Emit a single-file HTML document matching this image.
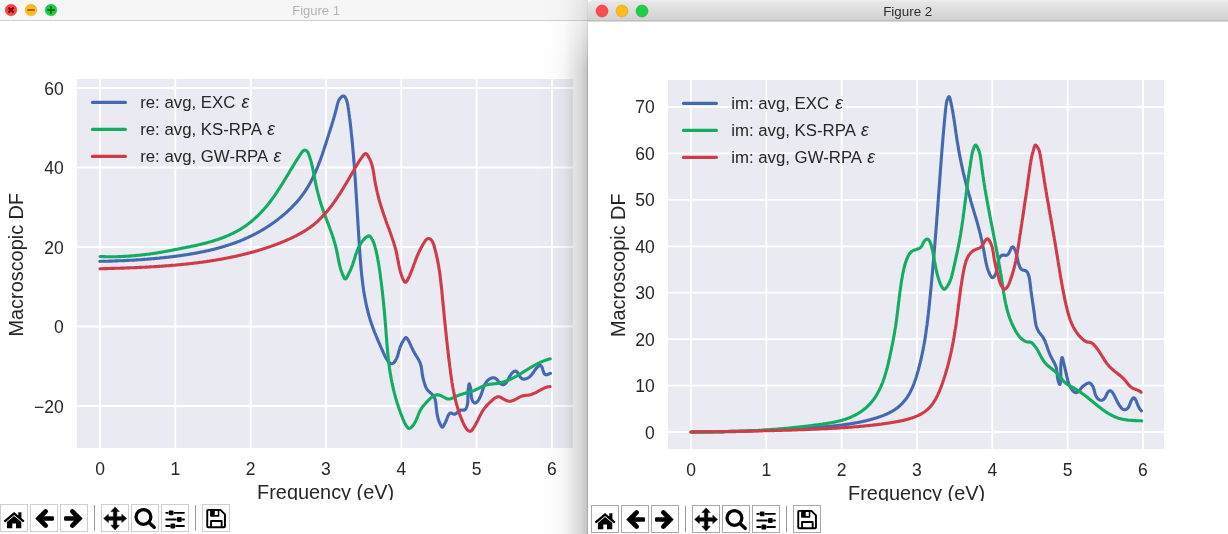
<!DOCTYPE html>
<html><head><meta charset="utf-8"><title>Figures</title>
<style>
html,body{margin:0;padding:0;background:#fff;}
body{width:1228px;height:534px;overflow:hidden;position:relative;font-family:"Liberation Sans",sans-serif;}
svg{position:absolute;left:0;top:0;will-change:transform;}
text{font-family:"Liberation Sans",sans-serif;fill:#262626;}
.tk{font-size:17.5px;}
.lg{font-size:16.8px;}
.al{font-size:19.9px;}
.eps{font-style:italic;font-size:17.6px;}
.t1{font-size:13px;fill:#b4b4b4;}
.t2{font-size:13.4px;fill:#2e2e2e;}
</style></head><body>
<svg width="1228" height="534" viewBox="0 0 1228 534">
<defs>
<linearGradient id="tb2g" x1="0" y1="0" x2="0" y2="1"><stop offset="0" stop-color="#f0eff0"/><stop offset="0.08" stop-color="#e8e7e8"/><stop offset="1" stop-color="#d2d1d2"/></linearGradient>
<linearGradient id="shd" x1="0" y1="0" x2="1" y2="0"><stop offset="0" stop-color="#000" stop-opacity="0"/><stop offset="0.3" stop-color="#000" stop-opacity="0.012"/><stop offset="0.5" stop-color="#000" stop-opacity="0.035"/><stop offset="0.69" stop-color="#000" stop-opacity="0.10"/><stop offset="0.85" stop-color="#000" stop-opacity="0.155"/><stop offset="0.97" stop-color="#000" stop-opacity="0.225"/><stop offset="1" stop-color="#000" stop-opacity="0.25"/></linearGradient>
<linearGradient id="shv" x1="0" y1="0" x2="0" y2="70" gradientUnits="userSpaceOnUse"><stop offset="0" stop-color="#fff" stop-opacity="0.35"/><stop offset="0.3" stop-color="#fff" stop-opacity="0.45"/><stop offset="1" stop-color="#fff" stop-opacity="1"/></linearGradient>
<mask id="shm" maskUnits="userSpaceOnUse" x="540" y="0" width="48" height="534"><rect x="540" y="0" width="48" height="534" fill="url(#shv)"/></mask>
<clipPath id="lab1"><rect x="0" y="0" width="588" height="500"/></clipPath>
<clipPath id="lab2"><rect x="588" y="0" width="640" height="501"/></clipPath>
<symbol id="i-home" viewBox="0 0 28 28" width="28" height="28"><path d="M14.1 8.0 L3.9 16.5 Q3.7 17 4.2 17.4 L4.9 18.1 Q5.3 18.4 5.7 18.0 L14.1 10.9 L22.5 18.0 Q22.9 18.4 23.3 18.1 L24.0 17.4 Q24.5 17 24.3 16.5 L21.4 14.1 V8.2 H18.3 V11.5 Z" fill="#000"/><path d="M14.1 12.1 L6.9 17.9 V23.8 Q6.9 24.3 7.4 24.3 H12.3 V19.4 H16.0 V24.3 H20.8 Q21.3 24.3 21.3 23.8 V17.9 Z" fill="#000"/></symbol>
<symbol id="i-left" viewBox="0 0 28 28" width="28" height="28"><path d="M15.65 7.45 L8.6 14.5 L15.65 21.55" fill="none" stroke="#000" stroke-width="4.7" stroke-linecap="round" stroke-linejoin="miter"/><rect x="8.6" y="12.2" width="15.4" height="4.6" rx="1.3" fill="#000"/></symbol>
<symbol id="i-right" viewBox="0 0 28 28" width="28" height="28"><path d="M12.35 7.45 L19.4 14.5 L12.35 21.55" fill="none" stroke="#000" stroke-width="4.7" stroke-linecap="round" stroke-linejoin="miter"/><rect x="4" y="12.2" width="15.4" height="4.6" rx="1.3" fill="#000"/></symbol>
<symbol id="i-move" viewBox="0 0 28 28" width="28" height="28"><path d="M14.1 2.9 L18.3 7.6 H15.85 V12.65 H20.8 V10.2 L25.6 14.4 L20.8 18.6 V16.15 H15.85 V21.2 H18.3 L14.1 25.9 L9.9 21.2 H12.35 V16.15 H7.4 V18.6 L2.6 14.4 L7.4 10.2 V12.65 H12.35 V7.6 H9.9 Z" fill="#000" stroke="#000" stroke-width="0.5" stroke-linejoin="round"/></symbol>
<symbol id="i-zoom" viewBox="0 0 28 28" width="28" height="28"><circle cx="12.45" cy="12.95" r="7.4" fill="none" stroke="#000" stroke-width="3.3"/><path d="M18.2 18.7 L23.2 23.3" stroke="#000" stroke-width="3.4" stroke-linecap="round"/></symbol>
<symbol id="i-sliders" viewBox="0 0 28 28" width="28" height="28"><path d="M5.2 8.85 H23 M5.2 15.5 H23 M5.2 22 H23" stroke="#000" stroke-width="1.8" stroke-linecap="round"/><rect x="7.8" y="6.45" width="4.7" height="4.8" rx="1" fill="#000" stroke="#fff" stroke-width="0.7" paint-order="stroke"/><rect x="16" y="13.1" width="4.7" height="4.8" rx="1" fill="#000" stroke="#fff" stroke-width="0.7" paint-order="stroke"/><rect x="9.45" y="19.6" width="4.7" height="4.8" rx="1" fill="#000" stroke="#fff" stroke-width="0.7" paint-order="stroke"/></symbol>
<symbol id="i-save" viewBox="0 0 28 28" width="28" height="28"><path d="M6.2 5.85 H18.4 L22.95 10.4 V22.3 Q22.95 23.25 22 23.25 H6.2 Q5.25 23.25 5.25 22.3 V6.8 Q5.25 5.85 6.2 5.85 Z" fill="#fff" stroke="#000" stroke-width="1.9" stroke-linejoin="round"/><path d="M8.1 5.85 H17.3 V12 Q17.3 12.8 16.5 12.8 H8.9 Q8.1 12.8 8.1 12 Z" fill="#000"/><rect x="12.75" y="7" width="3.05" height="4" fill="#fff"/><path d="M9.05 23.25 V17.05 H19.65 V23.25" fill="none" stroke="#000" stroke-width="1.9" stroke-linejoin="round"/></symbol>

</defs>
<!-- window 1 -->
<rect x="0" y="0" width="588" height="534" fill="#fff"/>
<rect x="0" y="0" width="588" height="20" fill="#f6f6f6"/>
<rect x="0" y="20" width="588" height="1" fill="#d2d2d2"/>
<circle cx="11" cy="10" r="5.8" fill="#fc4045" stroke="#e8383d" stroke-width="0.5"/><circle cx="31" cy="10" r="5.8" fill="#fdbe10" stroke="#e6a520" stroke-width="0.5"/><circle cx="51" cy="10" r="5.8" fill="#10cf40" stroke="#18b53a" stroke-width="0.5"/>
<path d="M8.4 7.4 L13.6 12.6 M13.6 7.4 L8.4 12.6" stroke="#7e0508" stroke-width="2.1" stroke-linecap="butt" fill="none"/>
<path d="M27.3 10 H34.7" stroke="#985a05" stroke-width="1.8" fill="none"/>
<path d="M47.3 10 H54.7 M51 6.3 V13.7" stroke="#0a6a16" stroke-width="1.8" fill="none"/>
<text x="316.1" y="14.7" text-anchor="middle" class="t1">Figure 1</text>
<g clip-path="url(#lab1)">
<rect x="77" y="79" width="496" height="369" fill="#eaeaf2"/>
<clipPath id="c0"><rect x="77" y="79" width="496" height="369"/></clipPath>
<g clip-path="url(#c0)">
<line x1="100.0" y1="79" x2="100.0" y2="448" stroke="#fff" stroke-width="1.8"/>
<line x1="175.32999999999998" y1="79" x2="175.32999999999998" y2="448" stroke="#fff" stroke-width="1.8"/>
<line x1="250.66" y1="79" x2="250.66" y2="448" stroke="#fff" stroke-width="1.8"/>
<line x1="325.99" y1="79" x2="325.99" y2="448" stroke="#fff" stroke-width="1.8"/>
<line x1="401.32" y1="79" x2="401.32" y2="448" stroke="#fff" stroke-width="1.8"/>
<line x1="476.65" y1="79" x2="476.65" y2="448" stroke="#fff" stroke-width="1.8"/>
<line x1="551.98" y1="79" x2="551.98" y2="448" stroke="#fff" stroke-width="1.8"/>
<line x1="77" y1="88" x2="573" y2="88" stroke="#fff" stroke-width="1.8"/>
<line x1="77" y1="167.5" x2="573" y2="167.5" stroke="#fff" stroke-width="1.8"/>
<line x1="77" y1="247" x2="573" y2="247" stroke="#fff" stroke-width="1.8"/>
<line x1="77" y1="326.5" x2="573" y2="326.5" stroke="#fff" stroke-width="1.8"/>
<line x1="77" y1="406" x2="573" y2="406" stroke="#fff" stroke-width="1.8"/>
<path d="M99.9 261.4 L100.6 261.3 L101.4 261.3 L102.1 261.3 L102.8 261.3 L103.5 261.3 L104.2 261.3 L104.9 261.2 L105.6 261.2 L106.3 261.2 L107.0 261.2 L107.7 261.2 L108.4 261.2 L109.1 261.1 L109.8 261.1 L110.5 261.1 L111.2 261.1 L111.9 261.1 L112.6 261.0 L113.3 261.0 L114.0 261.0 L114.7 261.0 L115.4 260.9 L116.1 260.9 L116.8 260.9 L117.5 260.9 L118.2 260.8 L118.9 260.8 L119.6 260.8 L120.3 260.8 L121.0 260.7 L121.7 260.7 L122.4 260.7 L123.1 260.6 L123.8 260.6 L124.5 260.6 L125.2 260.5 L125.9 260.5 L126.6 260.5 L127.3 260.4 L128.0 260.4 L128.7 260.4 L129.4 260.3 L130.1 260.3 L130.8 260.3 L131.5 260.2 L132.2 260.2 L132.9 260.1 L133.6 260.1 L134.3 260.1 L135.0 260.0 L135.7 260.0 L136.4 259.9 L137.1 259.9 L137.8 259.8 L138.5 259.8 L139.2 259.7 L139.9 259.7 L140.6 259.7 L141.3 259.6 L142.0 259.6 L142.7 259.5 L143.4 259.5 L144.1 259.4 L144.7 259.4 L145.4 259.3 L146.1 259.3 L146.8 259.2 L147.5 259.1 L148.2 259.1 L148.9 259.0 L149.6 259.0 L150.3 258.9 L151.0 258.9 L151.7 258.8 L152.4 258.7 L153.1 258.7 L153.8 258.6 L154.5 258.6 L155.2 258.5 L155.9 258.4 L156.6 258.4 L157.3 258.3 L158.0 258.2 L158.7 258.2 L159.4 258.1 L160.0 258.0 L160.7 257.9 L161.4 257.9 L162.1 257.8 L162.8 257.7 L163.5 257.7 L164.2 257.6 L164.9 257.5 L165.6 257.4 L166.3 257.4 L167.0 257.3 L167.7 257.2 L168.4 257.1 L169.1 257.0 L169.8 257.0 L170.5 256.9 L171.2 256.8 L171.9 256.7 L172.6 256.6 L173.3 256.5 L173.9 256.4 L174.6 256.4 L175.3 256.3 L176.0 256.2 L176.7 256.1 L177.4 256.0 L178.1 255.9 L178.8 255.8 L179.5 255.7 L180.2 255.6 L180.9 255.5 L181.6 255.4 L182.3 255.3 L183.0 255.2 L183.7 255.1 L184.4 255.0 L185.1 254.9 L185.8 254.8 L186.5 254.7 L187.2 254.6 L187.8 254.5 L188.5 254.4 L189.2 254.2 L189.9 254.1 L190.6 254.0 L191.3 253.9 L192.0 253.8 L192.7 253.7 L193.4 253.5 L194.1 253.4 L194.8 253.3 L195.5 253.2 L196.2 253.1 L196.8 252.9 L197.5 252.8 L198.2 252.7 L198.9 252.5 L199.6 252.4 L200.3 252.3 L201.0 252.1 L201.7 252.0 L202.4 251.8 L203.0 251.7 L203.7 251.6 L204.4 251.4 L205.1 251.3 L205.8 251.1 L206.5 251.0 L207.2 250.8 L207.8 250.7 L208.5 250.5 L209.2 250.4 L209.9 250.2 L210.6 250.0 L211.3 249.9 L211.9 249.7 L212.6 249.5 L213.3 249.4 L214.0 249.2 L214.7 249.0 L215.3 248.9 L216.0 248.7 L216.7 248.5 L217.4 248.3 L218.0 248.1 L218.7 248.0 L219.4 247.8 L220.1 247.6 L220.7 247.4 L221.4 247.2 L222.1 247.0 L222.8 246.8 L223.4 246.6 L224.1 246.4 L224.8 246.2 L225.4 246.0 L226.1 245.8 L226.8 245.6 L227.4 245.4 L228.1 245.2 L228.8 244.9 L229.4 244.7 L230.1 244.5 L230.7 244.3 L231.4 244.1 L232.1 243.8 L232.7 243.6 L233.4 243.4 L234.0 243.1 L234.7 242.9 L235.4 242.7 L236.0 242.4 L236.7 242.2 L237.3 241.9 L238.0 241.7 L238.6 241.4 L239.3 241.2 L239.9 240.9 L240.6 240.7 L241.2 240.4 L241.9 240.1 L242.5 239.9 L243.1 239.6 L243.8 239.3 L244.4 239.0 L245.1 238.8 L245.7 238.5 L246.3 238.2 L247.0 237.9 L247.6 237.6 L248.2 237.3 L248.9 237.0 L249.5 236.7 L250.1 236.4 L250.8 236.1 L251.4 235.8 L252.0 235.5 L252.7 235.2 L253.3 234.9 L253.9 234.6 L254.5 234.3 L255.1 233.9 L255.8 233.6 L256.4 233.3 L257.0 232.9 L257.6 232.6 L258.2 232.3 L258.8 231.9 L259.4 231.6 L260.1 231.3 L260.7 230.9 L261.3 230.6 L261.9 230.2 L262.5 229.8 L263.1 229.5 L263.7 229.1 L264.3 228.8 L264.9 228.4 L265.5 228.0 L266.1 227.7 L266.7 227.3 L267.2 226.9 L267.8 226.5 L268.4 226.1 L269.0 225.8 L269.6 225.4 L270.2 225.0 L270.8 224.6 L271.3 224.2 L271.9 223.8 L272.5 223.4 L273.1 223.0 L273.6 222.6 L274.2 222.2 L274.8 221.8 L275.3 221.4 L275.9 220.9 L276.5 220.5 L277.0 220.1 L277.6 219.7 L278.1 219.2 L278.7 218.8 L279.2 218.4 L279.8 217.9 L280.3 217.5 L280.9 217.1 L281.4 216.6 L282.0 216.2 L282.5 215.7 L283.1 215.3 L283.6 214.8 L284.1 214.4 L284.7 213.9 L285.2 213.5 L285.7 213.0 L286.2 212.5 L286.8 212.1 L287.3 211.6 L287.8 211.1 L288.3 210.6 L288.8 210.2 L289.3 209.7 L289.8 209.2 L290.4 208.7 L290.9 208.2 L291.4 207.7 L291.9 207.2 L292.3 206.7 L292.8 206.2 L293.3 205.7 L293.8 205.2 L294.3 204.7 L294.8 204.2 L295.2 203.7 L295.7 203.2 L296.2 202.7 L296.7 202.1 L297.1 201.6 L297.6 201.1 L298.0 200.5 L298.5 200.0 L298.9 199.5 L299.4 198.9 L299.8 198.4 L300.3 197.9 L300.7 197.3 L301.1 196.8 L301.5 196.2 L302.0 195.6 L302.4 195.1 L302.8 194.5 L303.2 194.0 L303.6 193.4 L304.0 192.8 L304.4 192.2 L304.8 191.7 L305.2 191.1 L305.6 190.5 L306.0 189.9 L306.3 189.3 L306.7 188.7 L307.1 188.2 L307.4 187.6 L307.8 187.0 L308.2 186.4 L308.5 185.8 L308.9 185.2 L309.2 184.6 L309.5 183.9 L309.9 183.3 L310.2 182.7 L310.6 182.1 L310.9 181.5 L311.2 180.9 L311.5 180.2 L311.9 179.6 L312.2 179.0 L312.5 178.4 L312.8 177.7 L313.1 177.1 L313.4 176.5 L313.7 175.8 L314.0 175.2 L314.3 174.6 L314.6 173.9 L314.9 173.3 L315.2 172.7 L315.5 172.0 L315.7 171.4 L316.0 170.7 L316.3 170.1 L316.6 169.4 L316.8 168.8 L317.1 168.1 L317.4 167.5 L317.6 166.8 L317.9 166.2 L318.2 165.5 L318.4 164.9 L318.7 164.2 L318.9 163.6 L319.2 162.9 L319.4 162.3 L319.7 161.6 L319.9 160.9 L320.2 160.3 L320.4 159.6 L320.6 159.0 L320.9 158.3 L321.1 157.6 L321.3 157.0 L321.6 156.3 L321.8 155.7 L322.0 155.0 L322.3 154.3 L322.5 153.7 L322.7 153.0 L322.9 152.4 L323.2 151.7 L323.4 151.0 L323.6 150.4 L323.8 149.7 L324.0 149.1 L324.3 148.4 L324.5 147.7 L324.7 147.1 L324.9 146.4 L325.1 145.7 L325.3 145.1 L325.6 144.4 L325.8 143.8 L326.0 143.1 L326.2 142.4 L326.4 141.8 L326.6 141.1 L326.8 140.4 L327.0 139.8 L327.2 139.1 L327.5 138.4 L327.7 137.8 L327.9 137.1 L328.1 136.4 L328.3 135.8 L328.5 135.1 L328.7 134.4 L328.9 133.8 L329.1 133.1 L329.4 132.4 L329.6 131.8 L329.8 131.1 L330.0 130.4 L330.2 129.8 L330.4 129.1 L330.6 128.4 L330.8 127.8 L331.1 127.1 L331.3 126.4 L331.5 125.8 L331.7 125.1 L331.9 124.4 L332.1 123.7 L332.3 123.1 L332.5 122.4 L332.7 121.7 L332.9 121.0 L333.1 120.4 L333.3 119.7 L333.5 119.0 L333.7 118.4 L333.9 117.7 L334.1 117.0 L334.3 116.3 L334.5 115.7 L334.7 115.0 L334.9 114.3 L335.1 113.6 L335.3 112.9 L335.4 112.3 L335.6 111.6 L335.8 110.9 L336.0 110.2 L336.2 109.6 L336.3 108.9 L336.5 108.2 L336.7 107.5 L336.8 106.8 L337.0 106.1 L337.2 105.5 L337.3 104.8 L337.5 104.1 L337.7 103.4 L337.9 102.8 L338.1 102.1 L338.3 101.4 L338.6 100.8 L338.9 100.2 L339.2 99.6 L339.6 99.0 L340.0 98.4 L340.5 97.8 L341.0 97.3 L341.5 96.8 L342.1 96.4 L342.7 96.1 L343.2 96.0 L343.7 96.0 L344.2 96.2 L344.6 96.5 L345.0 97.0 L345.4 97.5 L345.7 98.2 L346.1 98.9 L346.3 99.6 L346.6 100.4 L346.8 101.2 L347.1 101.9 L347.3 102.7 L347.4 103.4 L347.6 104.1 L347.8 104.9 L347.9 105.6 L348.0 106.3 L348.1 106.9 L348.2 107.6 L348.3 108.3 L348.4 109.0 L348.5 109.7 L348.6 110.4 L348.7 111.0 L348.8 111.7 L348.9 112.4 L349.0 113.1 L349.1 113.8 L349.2 114.4 L349.3 115.1 L349.3 115.8 L349.4 116.5 L349.5 117.2 L349.6 117.9 L349.7 118.5 L349.8 119.2 L349.9 119.9 L350.0 120.6 L350.0 121.3 L350.1 122.0 L350.2 122.7 L350.3 123.4 L350.4 124.1 L350.4 124.7 L350.5 125.4 L350.6 126.1 L350.7 126.8 L350.8 127.5 L350.8 128.2 L350.9 128.9 L351.0 129.6 L351.1 130.3 L351.1 131.0 L351.2 131.7 L351.3 132.4 L351.4 133.0 L351.4 133.7 L351.5 134.4 L351.6 135.1 L351.6 135.8 L351.7 136.5 L351.8 137.2 L351.9 137.9 L351.9 138.6 L352.0 139.3 L352.1 140.0 L352.1 140.7 L352.2 141.4 L352.3 142.1 L352.3 142.8 L352.4 143.5 L352.5 144.2 L352.5 144.9 L352.6 145.6 L352.7 146.3 L352.7 147.0 L352.8 147.7 L352.8 148.4 L352.9 149.1 L353.0 149.8 L353.0 150.5 L353.1 151.2 L353.1 151.9 L353.2 152.6 L353.3 153.3 L353.3 154.0 L353.4 154.7 L353.4 155.4 L353.5 156.1 L353.6 156.8 L353.6 157.5 L353.7 158.2 L353.7 158.9 L353.8 159.6 L353.8 160.3 L353.9 161.0 L353.9 161.7 L354.0 162.4 L354.1 163.1 L354.1 163.8 L354.2 164.5 L354.2 165.2 L354.3 165.9 L354.3 166.6 L354.4 167.3 L354.4 168.0 L354.5 168.7 L354.5 169.4 L354.6 170.1 L354.6 170.8 L354.7 171.5 L354.7 172.2 L354.8 172.9 L354.8 173.6 L354.9 174.3 L354.9 175.0 L355.0 175.7 L355.0 176.4 L355.1 177.1 L355.1 177.8 L355.2 178.5 L355.2 179.2 L355.3 179.9 L355.3 180.6 L355.4 181.3 L355.4 182.0 L355.5 182.7 L355.5 183.4 L355.5 184.1 L355.6 184.8 L355.6 185.5 L355.7 186.2 L355.7 186.9 L355.8 187.6 L355.8 188.3 L355.9 189.0 L355.9 189.7 L356.0 190.4 L356.0 191.1 L356.0 191.8 L356.1 192.5 L356.1 193.2 L356.2 193.9 L356.2 194.6 L356.3 195.3 L356.3 196.0 L356.3 196.7 L356.4 197.4 L356.4 198.1 L356.5 198.8 L356.5 199.5 L356.6 200.1 L356.6 200.8 L356.6 201.5 L356.7 202.2 L356.7 202.9 L356.8 203.6 L356.8 204.3 L356.9 205.0 L356.9 205.7 L356.9 206.4 L357.0 207.1 L357.0 207.8 L357.1 208.5 L357.1 209.2 L357.2 209.9 L357.2 210.6 L357.2 211.3 L357.3 212.0 L357.3 212.7 L357.4 213.4 L357.4 214.1 L357.4 214.8 L357.5 215.5 L357.5 216.2 L357.6 216.9 L357.6 217.6 L357.7 218.3 L357.7 219.0 L357.7 219.7 L357.8 220.4 L357.8 221.1 L357.9 221.8 L357.9 222.5 L357.9 223.2 L358.0 223.8 L358.0 224.5 L358.1 225.2 L358.1 225.9 L358.2 226.6 L358.2 227.3 L358.2 228.0 L358.3 228.7 L358.3 229.4 L358.4 230.1 L358.4 230.8 L358.5 231.5 L358.5 232.2 L358.5 232.9 L358.6 233.6 L358.6 234.3 L358.7 235.0 L358.7 235.7 L358.8 236.4 L358.8 237.1 L358.9 237.8 L358.9 238.5 L358.9 239.2 L359.0 239.9 L359.0 240.6 L359.1 241.3 L359.1 242.0 L359.2 242.7 L359.2 243.4 L359.3 244.1 L359.3 244.8 L359.4 245.5 L359.4 246.2 L359.5 246.9 L359.5 247.6 L359.5 248.3 L359.6 249.0 L359.6 249.7 L359.7 250.4 L359.7 251.1 L359.8 251.8 L359.8 252.5 L359.9 253.2 L359.9 253.9 L360.0 254.6 L360.0 255.3 L360.1 256.0 L360.1 256.7 L360.2 257.4 L360.2 258.1 L360.3 258.8 L360.3 259.5 L360.4 260.2 L360.5 260.9 L360.5 261.6 L360.6 262.3 L360.6 263.0 L360.7 263.7 L360.7 264.4 L360.8 265.1 L360.9 265.8 L360.9 266.5 L361.0 267.2 L361.0 267.9 L361.1 268.6 L361.2 269.3 L361.2 270.0 L361.3 270.7 L361.4 271.4 L361.4 272.1 L361.5 272.8 L361.6 273.5 L361.6 274.2 L361.7 274.9 L361.8 275.6 L361.9 276.3 L361.9 277.0 L362.0 277.6 L362.1 278.3 L362.2 279.0 L362.2 279.7 L362.3 280.4 L362.4 281.1 L362.5 281.8 L362.6 282.5 L362.7 283.2 L362.8 283.9 L362.9 284.6 L362.9 285.3 L363.0 286.0 L363.1 286.7 L363.2 287.4 L363.3 288.1 L363.4 288.8 L363.5 289.5 L363.6 290.2 L363.7 290.8 L363.8 291.5 L364.0 292.2 L364.1 292.9 L364.2 293.6 L364.3 294.3 L364.4 295.0 L364.5 295.7 L364.7 296.4 L364.8 297.0 L364.9 297.7 L365.0 298.4 L365.2 299.1 L365.3 299.8 L365.4 300.5 L365.6 301.2 L365.7 301.8 L365.8 302.5 L366.0 303.2 L366.1 303.9 L366.3 304.6 L366.4 305.3 L366.6 305.9 L366.7 306.6 L366.9 307.3 L367.0 308.0 L367.2 308.7 L367.4 309.3 L367.5 310.0 L367.7 310.7 L367.9 311.4 L368.0 312.0 L368.2 312.7 L368.4 313.4 L368.6 314.1 L368.7 314.7 L368.9 315.4 L369.1 316.1 L369.3 316.8 L369.5 317.4 L369.7 318.1 L369.9 318.8 L370.1 319.4 L370.3 320.1 L370.5 320.8 L370.7 321.4 L371.0 322.1 L371.2 322.8 L371.4 323.4 L371.6 324.1 L371.8 324.8 L372.1 325.4 L372.3 326.1 L372.5 326.7 L372.8 327.4 L373.0 328.1 L373.3 328.7 L373.5 329.4 L373.8 330.0 L374.0 330.7 L374.3 331.3 L374.5 332.0 L374.8 332.6 L375.0 333.3 L375.3 333.9 L375.6 334.6 L375.8 335.2 L376.1 335.9 L376.4 336.5 L376.6 337.2 L376.9 337.8 L377.2 338.5 L377.5 339.1 L377.7 339.8 L378.0 340.4 L378.3 341.1 L378.6 341.7 L378.8 342.4 L379.1 343.0 L379.4 343.6 L379.7 344.3 L380.0 344.9 L380.2 345.6 L380.5 346.2 L380.8 346.8 L381.1 347.5 L381.3 348.1 L381.6 348.8 L381.9 349.4 L382.2 350.0 L382.5 350.7 L382.7 351.3 L383.0 351.9 L383.3 352.6 L383.6 353.2 L383.9 353.8 L384.2 354.5 L384.5 355.1 L384.8 355.7 L385.1 356.4 L385.4 357.0 L385.8 357.6 L386.1 358.3 L386.5 358.9 L386.9 359.5 L387.3 360.1 L387.7 360.8 L388.1 361.4 L388.5 361.9 L389.0 362.4 L389.5 362.9 L390.0 363.2 L390.5 363.5 L391.0 363.7 L391.6 363.8 L392.1 363.7 L392.7 363.5 L393.2 363.2 L393.8 362.8 L394.3 362.2 L394.8 361.5 L395.2 360.9 L395.6 360.2 L396.0 359.5 L396.4 358.8 L396.7 358.2 L397.0 357.5 L397.2 356.8 L397.5 356.2 L397.7 355.5 L397.9 354.9 L398.1 354.2 L398.2 353.6 L398.4 352.9 L398.6 352.3 L398.7 351.6 L398.9 351.0 L399.1 350.3 L399.3 349.7 L399.5 349.0 L399.7 348.4 L399.9 347.7 L400.1 347.1 L400.4 346.4 L400.7 345.7 L401.0 345.1 L401.3 344.4 L401.6 343.8 L401.9 343.1 L402.2 342.5 L402.6 341.8 L403.0 341.2 L403.4 340.6 L403.8 339.9 L404.2 339.3 L404.6 338.8 L405.0 338.2 L405.5 337.8 L405.9 337.5 L406.3 337.7 L406.8 338.1 L407.2 338.6 L407.6 339.1 L408.0 339.7 L408.3 340.3 L408.7 341.0 L409.0 341.6 L409.4 342.3 L409.7 343.0 L410.0 343.7 L410.3 344.4 L410.6 345.0 L410.9 345.7 L411.2 346.4 L411.5 347.0 L411.8 347.6 L412.1 348.3 L412.4 348.9 L412.7 349.5 L413.0 350.1 L413.3 350.7 L413.6 351.2 L413.9 351.8 L414.2 352.4 L414.5 353.0 L414.9 353.6 L415.2 354.1 L415.5 354.7 L415.9 355.3 L416.3 355.9 L416.6 356.5 L417.0 357.1 L417.4 357.7 L417.7 358.3 L418.1 358.9 L418.5 359.5 L418.8 360.1 L419.1 360.7 L419.4 361.4 L419.7 362.0 L420.0 362.6 L420.3 363.3 L420.5 363.9 L420.7 364.6 L420.9 365.3 L421.0 365.9 L421.2 366.6 L421.3 367.3 L421.5 368.0 L421.6 368.7 L421.7 369.4 L421.8 370.1 L421.9 370.8 L421.9 371.5 L422.0 372.2 L422.1 372.9 L422.2 373.6 L422.3 374.3 L422.4 375.0 L422.6 375.7 L422.7 376.5 L422.8 377.2 L423.0 377.9 L423.1 378.6 L423.3 379.2 L423.5 379.9 L423.7 380.6 L423.9 381.3 L424.1 382.0 L424.3 382.6 L424.5 383.3 L424.7 383.9 L424.9 384.6 L425.1 385.2 L425.3 385.9 L425.5 386.5 L425.8 387.1 L426.1 387.7 L426.4 388.3 L426.7 388.8 L427.1 389.4 L427.5 390.0 L427.9 390.5 L428.4 391.0 L429.0 391.5 L429.5 392.0 L430.1 392.5 L430.6 393.0 L431.1 393.4 L431.7 393.9 L432.1 394.4 L432.6 394.8 L433.0 395.3 L433.4 395.8 L433.8 396.4 L434.1 396.9 L434.4 397.5 L434.7 398.2 L434.9 398.8 L435.1 399.5 L435.3 400.2 L435.4 400.9 L435.5 401.6 L435.7 402.3 L435.8 403.0 L435.9 403.8 L435.9 404.5 L436.0 405.2 L436.1 406.0 L436.2 406.7 L436.2 407.4 L436.3 408.1 L436.4 408.8 L436.5 409.5 L436.6 410.2 L436.7 410.9 L436.7 411.6 L436.8 412.3 L436.9 413.0 L437.1 413.7 L437.2 414.3 L437.3 415.0 L437.4 415.7 L437.6 416.3 L437.7 417.0 L437.9 417.7 L438.1 418.3 L438.2 419.0 L438.4 419.7 L438.7 420.3 L438.9 421.0 L439.1 421.7 L439.4 422.3 L439.7 423.0 L439.9 423.7 L440.3 424.3 L440.6 425.0 L440.9 425.7 L441.3 426.3 L441.7 426.8 L442.0 427.1 L442.4 427.2 L442.8 427.0 L443.2 426.6 L443.6 425.9 L444.0 425.1 L444.4 424.3 L444.7 423.6 L445.1 423.0 L445.4 422.4 L445.7 421.8 L446.0 421.2 L446.2 420.6 L446.5 419.9 L446.7 419.3 L447.0 418.6 L447.2 418.0 L447.5 417.3 L447.7 416.6 L448.0 416.0 L448.3 415.3 L448.7 414.7 L449.1 414.1 L449.5 413.5 L449.9 413.2 L450.5 413.0 L451.0 413.0 L451.7 413.2 L452.3 413.5 L453.0 413.8 L453.6 414.1 L454.3 414.2 L454.9 414.1 L455.5 413.8 L456.1 413.5 L456.7 413.0 L457.3 412.5 L457.9 412.0 L458.5 411.5 L459.2 411.1 L459.8 410.6 L460.4 410.3 L461.1 410.1 L461.7 410.0 L462.4 410.0 L463.1 410.1 L463.7 410.2 L464.3 410.1 L464.8 409.9 L465.3 409.5 L465.7 409.0 L466.1 408.4 L466.4 407.7 L466.7 407.0 L466.9 406.4 L467.1 405.7 L467.3 405.0 L467.4 404.3 L467.6 403.7 L467.6 403.0 L467.7 402.3 L467.8 401.6 L467.8 400.9 L467.8 400.2 L467.8 399.5 L467.9 398.8 L467.9 398.1 L467.9 397.4 L467.9 396.7 L467.9 396.0 L467.9 395.3 L467.9 394.6 L467.9 393.8 L468.0 393.1 L468.0 392.4 L468.0 391.7 L468.1 390.9 L468.1 390.2 L468.2 389.5 L468.3 388.8 L468.4 388.1 L468.5 387.3 L468.6 386.6 L468.7 385.9 L468.8 385.2 L469.0 384.5 L469.1 384.0 L469.3 383.9 L469.5 384.4 L469.7 384.9 L469.8 385.5 L470.0 386.1 L470.2 386.7 L470.4 387.3 L470.6 387.9 L470.7 388.6 L470.8 389.3 L470.9 389.9 L471.0 390.6 L471.0 391.3 L471.1 392.0 L471.1 392.8 L471.1 393.5 L471.2 394.2 L471.2 395.0 L471.3 395.7 L471.3 396.5 L471.5 397.2 L471.6 398.0 L471.8 398.7 L472.0 399.5 L472.3 400.2 L472.7 400.9 L473.0 401.5 L473.4 402.0 L473.9 402.5 L474.4 402.8 L474.8 403.0 L475.4 403.0 L475.9 402.8 L476.4 402.5 L476.9 402.1 L477.4 401.5 L477.8 401.0 L478.3 400.3 L478.7 399.7 L479.1 399.1 L479.4 398.5 L479.7 397.8 L480.0 397.2 L480.3 396.6 L480.6 395.9 L480.9 395.3 L481.1 394.7 L481.3 394.0 L481.6 393.4 L481.8 392.7 L482.0 392.0 L482.2 391.4 L482.4 390.7 L482.6 390.0 L482.9 389.4 L483.1 388.7 L483.3 388.0 L483.6 387.4 L483.8 386.7 L484.1 386.0 L484.4 385.4 L484.7 384.8 L485.0 384.1 L485.4 383.5 L485.8 382.9 L486.1 382.3 L486.6 381.8 L487.0 381.2 L487.5 380.7 L488.0 380.2 L488.5 379.8 L489.1 379.3 L489.7 378.9 L490.3 378.6 L490.9 378.3 L491.6 378.1 L492.2 377.9 L492.9 377.8 L493.5 377.8 L494.1 377.9 L494.7 378.0 L495.3 378.3 L495.9 378.7 L496.5 379.1 L497.0 379.7 L497.5 380.2 L498.0 380.8 L498.5 381.4 L499.0 382.1 L499.6 382.6 L500.1 383.2 L500.6 383.7 L501.1 384.1 L501.6 384.4 L502.2 384.6 L502.7 384.7 L503.3 384.7 L503.8 384.6 L504.3 384.4 L504.8 384.1 L505.3 383.7 L505.8 383.2 L506.2 382.7 L506.6 382.1 L507.0 381.4 L507.4 380.8 L507.8 380.1 L508.1 379.4 L508.5 378.7 L508.8 378.0 L509.2 377.3 L509.6 376.7 L509.9 376.1 L510.3 375.5 L510.7 374.9 L511.1 374.3 L511.5 373.8 L511.9 373.3 L512.4 372.8 L512.8 372.3 L513.4 371.9 L513.9 371.6 L514.4 371.3 L515.0 371.1 L515.5 371.1 L516.0 371.2 L516.5 371.5 L516.9 371.8 L517.4 372.3 L517.8 372.9 L518.2 373.5 L518.6 374.2 L519.0 374.9 L519.4 375.6 L519.8 376.3 L520.2 376.9 L520.7 377.5 L521.2 378.0 L521.7 378.5 L522.3 378.8 L522.9 379.0 L523.6 379.1 L524.3 379.1 L525.0 379.0 L525.6 378.9 L526.3 378.7 L527.0 378.4 L527.6 378.1 L528.3 377.8 L528.8 377.4 L529.4 377.0 L529.9 376.5 L530.4 376.1 L530.9 375.6 L531.3 375.1 L531.8 374.5 L532.2 374.0 L532.6 373.4 L533.0 372.8 L533.5 372.3 L533.9 371.7 L534.3 371.1 L534.7 370.5 L535.1 369.9 L535.6 369.3 L536.0 368.7 L536.5 368.2 L537.0 367.6 L537.5 367.1 L538.0 366.6 L538.5 366.2 L539.0 365.9 L539.5 365.6 L540.0 365.5 L540.4 365.5 L540.8 365.6 L541.2 365.9 L541.6 366.4 L541.9 367.0 L542.2 367.7 L542.4 368.5 L542.7 369.3 L542.9 370.2 L543.2 371.0 L543.5 371.8 L543.7 372.6 L544.0 373.2 L544.4 373.7 L544.8 374.2 L545.2 374.5 L545.7 374.7 L546.2 374.7 L546.8 374.7 L547.5 374.5 L548.2 374.3 L548.9 374.0 L549.6 373.6 L550.4 373.2 L550.5 373.2" fill="none" stroke="#4469b1" stroke-width="3.1" stroke-linejoin="round" stroke-linecap="round"/>
<path d="M100.1 256.5 L100.7 256.5 L101.4 256.5 L102.1 256.5 L102.8 256.6 L103.5 256.6 L104.2 256.6 L104.9 256.6 L105.6 256.7 L106.3 256.7 L107.0 256.7 L107.7 256.7 L108.4 256.7 L109.1 256.7 L109.8 256.7 L110.5 256.7 L111.2 256.7 L111.9 256.7 L112.6 256.7 L113.3 256.7 L114.0 256.7 L114.7 256.7 L115.4 256.7 L116.1 256.7 L116.8 256.7 L117.5 256.7 L118.2 256.6 L118.9 256.6 L119.6 256.6 L120.3 256.6 L121.0 256.5 L121.7 256.5 L122.4 256.5 L123.1 256.5 L123.8 256.4 L124.5 256.4 L125.2 256.4 L125.9 256.3 L126.5 256.3 L127.2 256.2 L127.9 256.2 L128.6 256.1 L129.3 256.1 L130.0 256.0 L130.7 256.0 L131.4 255.9 L132.1 255.9 L132.8 255.8 L133.5 255.8 L134.2 255.7 L134.9 255.6 L135.6 255.6 L136.3 255.5 L137.0 255.4 L137.7 255.4 L138.4 255.3 L139.1 255.2 L139.8 255.2 L140.5 255.1 L141.2 255.0 L141.9 254.9 L142.6 254.9 L143.3 254.8 L144.0 254.7 L144.7 254.6 L145.4 254.5 L146.1 254.4 L146.8 254.3 L147.5 254.3 L148.2 254.2 L148.9 254.1 L149.5 254.0 L150.2 253.9 L150.9 253.8 L151.6 253.7 L152.3 253.6 L153.0 253.5 L153.7 253.4 L154.4 253.3 L155.1 253.2 L155.8 253.1 L156.5 253.0 L157.2 252.9 L157.9 252.7 L158.6 252.6 L159.3 252.5 L160.0 252.4 L160.7 252.3 L161.3 252.2 L162.0 252.1 L162.7 251.9 L163.4 251.8 L164.1 251.7 L164.8 251.6 L165.5 251.4 L166.2 251.3 L166.9 251.2 L167.6 251.1 L168.3 250.9 L169.0 250.8 L169.6 250.7 L170.3 250.6 L171.0 250.4 L171.7 250.3 L172.4 250.2 L173.1 250.0 L173.8 249.9 L174.5 249.8 L175.2 249.6 L175.8 249.5 L176.5 249.4 L177.2 249.2 L177.9 249.1 L178.6 248.9 L179.3 248.8 L180.0 248.7 L180.7 248.5 L181.3 248.4 L182.0 248.3 L182.7 248.1 L183.4 248.0 L184.1 247.8 L184.8 247.7 L185.5 247.6 L186.1 247.4 L186.8 247.3 L187.5 247.1 L188.2 247.0 L188.9 246.9 L189.6 246.7 L190.2 246.6 L190.9 246.4 L191.6 246.3 L192.3 246.1 L193.0 246.0 L193.6 245.9 L194.3 245.7 L195.0 245.6 L195.7 245.4 L196.4 245.3 L197.0 245.1 L197.7 245.0 L198.4 244.8 L199.1 244.7 L199.8 244.5 L200.4 244.3 L201.1 244.2 L201.8 244.0 L202.5 243.9 L203.1 243.7 L203.8 243.5 L204.5 243.4 L205.2 243.2 L205.8 243.0 L206.5 242.8 L207.2 242.7 L207.8 242.5 L208.5 242.3 L209.2 242.1 L209.9 241.9 L210.5 241.7 L211.2 241.6 L211.9 241.4 L212.5 241.2 L213.2 241.0 L213.9 240.8 L214.5 240.5 L215.2 240.3 L215.9 240.1 L216.6 239.9 L217.2 239.7 L217.9 239.5 L218.5 239.2 L219.2 239.0 L219.9 238.8 L220.5 238.5 L221.2 238.3 L221.9 238.0 L222.5 237.8 L223.2 237.5 L223.8 237.3 L224.5 237.0 L225.1 236.7 L225.8 236.5 L226.4 236.2 L227.1 235.9 L227.7 235.7 L228.4 235.4 L229.0 235.1 L229.7 234.8 L230.3 234.5 L231.0 234.2 L231.6 233.9 L232.2 233.6 L232.9 233.3 L233.5 233.0 L234.1 232.7 L234.7 232.3 L235.4 232.0 L236.0 231.7 L236.6 231.4 L237.2 231.0 L237.8 230.7 L238.5 230.3 L239.1 230.0 L239.7 229.6 L240.3 229.3 L240.9 228.9 L241.5 228.5 L242.1 228.2 L242.7 227.8 L243.2 227.4 L243.8 227.0 L244.4 226.6 L245.0 226.2 L245.6 225.9 L246.1 225.5 L246.7 225.0 L247.3 224.6 L247.8 224.2 L248.4 223.8 L248.9 223.4 L249.5 223.0 L250.0 222.5 L250.6 222.1 L251.1 221.7 L251.7 221.2 L252.2 220.8 L252.7 220.3 L253.2 219.9 L253.8 219.4 L254.3 218.9 L254.8 218.5 L255.3 218.0 L255.8 217.5 L256.4 217.1 L256.9 216.6 L257.4 216.1 L257.9 215.6 L258.4 215.1 L258.9 214.6 L259.4 214.1 L259.8 213.6 L260.3 213.1 L260.8 212.6 L261.3 212.1 L261.8 211.6 L262.2 211.1 L262.7 210.6 L263.2 210.1 L263.6 209.6 L264.1 209.0 L264.6 208.5 L265.0 208.0 L265.5 207.4 L265.9 206.9 L266.4 206.4 L266.8 205.8 L267.3 205.3 L267.7 204.7 L268.2 204.2 L268.6 203.6 L269.0 203.1 L269.5 202.5 L269.9 202.0 L270.3 201.4 L270.8 200.9 L271.2 200.3 L271.6 199.7 L272.0 199.2 L272.4 198.6 L272.8 198.0 L273.3 197.5 L273.7 196.9 L274.1 196.3 L274.5 195.7 L274.9 195.2 L275.3 194.6 L275.7 194.0 L276.1 193.4 L276.5 192.8 L276.9 192.3 L277.2 191.7 L277.6 191.1 L278.0 190.5 L278.4 189.9 L278.8 189.3 L279.2 188.7 L279.5 188.1 L279.9 187.6 L280.3 187.0 L280.7 186.4 L281.0 185.8 L281.4 185.2 L281.8 184.6 L282.2 184.0 L282.5 183.4 L282.9 182.8 L283.3 182.2 L283.6 181.6 L284.0 181.0 L284.4 180.4 L284.7 179.8 L285.1 179.2 L285.4 178.6 L285.8 178.0 L286.2 177.4 L286.5 176.8 L286.9 176.2 L287.2 175.6 L287.6 175.1 L287.9 174.5 L288.3 173.9 L288.7 173.3 L289.0 172.7 L289.4 172.1 L289.7 171.5 L290.1 170.9 L290.4 170.3 L290.8 169.7 L291.1 169.1 L291.5 168.5 L291.9 167.9 L292.2 167.4 L292.6 166.8 L292.9 166.2 L293.3 165.6 L293.7 165.0 L294.0 164.4 L294.4 163.8 L294.8 163.2 L295.1 162.6 L295.5 162.0 L295.9 161.4 L296.3 160.8 L296.6 160.2 L297.0 159.6 L297.4 159.0 L297.8 158.4 L298.2 157.8 L298.6 157.2 L299.0 156.6 L299.4 155.9 L299.8 155.3 L300.2 154.7 L300.6 154.1 L301.0 153.5 L301.4 152.9 L301.8 152.3 L302.3 151.7 L302.7 151.2 L303.2 150.8 L303.7 150.5 L304.2 150.2 L304.7 150.1 L305.3 150.2 L305.9 150.4 L306.5 150.7 L307.0 151.1 L307.4 151.6 L307.8 152.2 L308.2 152.8 L308.4 153.5 L308.7 154.2 L309.0 154.9 L309.2 155.5 L309.5 156.2 L309.7 156.9 L309.9 157.6 L310.1 158.3 L310.3 159.0 L310.5 159.6 L310.7 160.3 L310.9 161.0 L311.1 161.7 L311.3 162.3 L311.5 163.0 L311.6 163.7 L311.8 164.4 L312.0 165.0 L312.1 165.7 L312.3 166.4 L312.4 167.1 L312.6 167.7 L312.7 168.4 L312.9 169.1 L313.0 169.8 L313.1 170.5 L313.3 171.1 L313.4 171.8 L313.5 172.5 L313.7 173.2 L313.8 173.9 L313.9 174.6 L314.1 175.3 L314.2 176.0 L314.3 176.6 L314.4 177.3 L314.6 178.0 L314.7 178.7 L314.8 179.4 L315.0 180.1 L315.1 180.8 L315.3 181.5 L315.4 182.1 L315.5 182.8 L315.7 183.5 L315.8 184.2 L316.0 184.9 L316.1 185.6 L316.3 186.3 L316.4 186.9 L316.6 187.6 L316.7 188.3 L316.9 189.0 L317.1 189.7 L317.2 190.4 L317.4 191.0 L317.6 191.7 L317.7 192.4 L317.9 193.1 L318.1 193.8 L318.3 194.4 L318.5 195.1 L318.6 195.8 L318.8 196.5 L319.0 197.1 L319.2 197.8 L319.4 198.5 L319.6 199.2 L319.8 199.8 L320.0 200.5 L320.2 201.2 L320.4 201.8 L320.6 202.5 L320.8 203.2 L321.0 203.9 L321.2 204.5 L321.4 205.2 L321.6 205.9 L321.8 206.5 L322.1 207.2 L322.3 207.8 L322.5 208.5 L322.7 209.2 L323.0 209.8 L323.2 210.5 L323.4 211.1 L323.7 211.8 L323.9 212.5 L324.1 213.1 L324.4 213.8 L324.6 214.4 L324.9 215.1 L325.1 215.7 L325.3 216.4 L325.6 217.1 L325.8 217.7 L326.1 218.4 L326.3 219.0 L326.6 219.7 L326.8 220.3 L327.1 221.0 L327.3 221.6 L327.6 222.3 L327.8 222.9 L328.1 223.6 L328.3 224.2 L328.6 224.9 L328.8 225.5 L329.1 226.2 L329.3 226.8 L329.5 227.5 L329.8 228.2 L330.0 228.8 L330.3 229.5 L330.5 230.1 L330.8 230.8 L331.0 231.4 L331.2 232.1 L331.5 232.7 L331.7 233.4 L331.9 234.1 L332.2 234.7 L332.4 235.4 L332.6 236.0 L332.8 236.7 L333.0 237.4 L333.3 238.0 L333.5 238.7 L333.7 239.4 L333.9 240.0 L334.1 240.7 L334.3 241.4 L334.5 242.0 L334.7 242.7 L334.9 243.4 L335.1 244.0 L335.3 244.7 L335.4 245.4 L335.6 246.1 L335.8 246.8 L336.0 247.4 L336.1 248.1 L336.3 248.8 L336.4 249.5 L336.6 250.2 L336.7 250.9 L336.9 251.5 L337.0 252.2 L337.2 252.9 L337.3 253.6 L337.4 254.3 L337.6 255.0 L337.7 255.7 L337.8 256.4 L338.0 257.1 L338.1 257.8 L338.2 258.5 L338.4 259.2 L338.5 259.9 L338.6 260.6 L338.8 261.2 L338.9 261.9 L339.1 262.6 L339.2 263.3 L339.4 264.0 L339.5 264.7 L339.7 265.4 L339.9 266.0 L340.0 266.7 L340.2 267.4 L340.4 268.1 L340.6 268.8 L340.8 269.4 L341.0 270.1 L341.2 270.8 L341.4 271.4 L341.7 272.1 L341.9 272.7 L342.2 273.4 L342.4 274.0 L342.7 274.7 L343.0 275.3 L343.3 276.0 L343.6 276.6 L343.9 277.2 L344.2 277.8 L344.5 278.4 L344.9 278.8 L345.2 278.9 L345.6 278.9 L346.0 278.6 L346.3 278.2 L346.7 277.6 L347.1 276.9 L347.5 276.2 L347.8 275.5 L348.2 274.7 L348.6 274.0 L348.9 273.3 L349.3 272.6 L349.6 271.9 L349.9 271.3 L350.3 270.6 L350.6 270.0 L350.8 269.3 L351.1 268.6 L351.4 268.0 L351.6 267.4 L351.9 266.7 L352.1 266.1 L352.4 265.4 L352.6 264.8 L352.8 264.1 L353.0 263.5 L353.2 262.8 L353.4 262.2 L353.6 261.6 L353.8 260.9 L354.0 260.3 L354.2 259.6 L354.4 259.0 L354.6 258.3 L354.8 257.7 L355.0 257.0 L355.2 256.4 L355.4 255.7 L355.6 255.1 L355.8 254.4 L356.0 253.8 L356.3 253.1 L356.5 252.5 L356.8 251.8 L357.0 251.1 L357.3 250.5 L357.6 249.8 L357.9 249.1 L358.2 248.5 L358.5 247.8 L358.8 247.1 L359.2 246.5 L359.5 245.8 L359.9 245.2 L360.2 244.5 L360.6 243.9 L361.0 243.2 L361.4 242.6 L361.8 242.0 L362.2 241.4 L362.6 240.9 L363.1 240.3 L363.5 239.8 L363.9 239.3 L364.4 238.8 L364.8 238.3 L365.3 237.9 L365.8 237.5 L366.3 237.1 L366.8 236.8 L367.3 236.4 L367.8 236.2 L368.3 236.0 L368.8 235.9 L369.4 236.0 L369.9 236.2 L370.4 236.6 L370.8 237.2 L371.3 237.8 L371.7 238.6 L372.1 239.4 L372.5 240.1 L372.9 240.9 L373.2 241.6 L373.5 242.3 L373.8 243.0 L374.0 243.7 L374.3 244.3 L374.5 245.0 L374.7 245.7 L374.9 246.3 L375.1 247.0 L375.2 247.6 L375.4 248.3 L375.6 248.9 L375.7 249.6 L375.9 250.2 L376.1 250.9 L376.2 251.5 L376.4 252.2 L376.5 252.9 L376.7 253.5 L376.8 254.2 L377.0 254.9 L377.1 255.6 L377.2 256.2 L377.4 256.9 L377.5 257.6 L377.6 258.3 L377.8 259.0 L377.9 259.7 L378.0 260.3 L378.1 261.0 L378.3 261.7 L378.4 262.4 L378.5 263.1 L378.6 263.8 L378.7 264.5 L378.8 265.2 L378.9 265.9 L379.0 266.6 L379.2 267.3 L379.3 268.0 L379.4 268.7 L379.5 269.4 L379.6 270.1 L379.7 270.8 L379.8 271.5 L379.9 272.2 L380.0 272.9 L380.1 273.6 L380.2 274.3 L380.3 275.0 L380.3 275.7 L380.4 276.4 L380.5 277.1 L380.6 277.7 L380.7 278.4 L380.8 279.1 L380.9 279.8 L381.0 280.5 L381.1 281.2 L381.2 281.9 L381.3 282.6 L381.3 283.3 L381.4 284.0 L381.5 284.7 L381.6 285.4 L381.7 286.1 L381.8 286.8 L381.9 287.5 L381.9 288.2 L382.0 288.9 L382.1 289.6 L382.2 290.3 L382.3 291.0 L382.3 291.7 L382.4 292.4 L382.5 293.1 L382.6 293.7 L382.6 294.4 L382.7 295.1 L382.8 295.8 L382.9 296.5 L382.9 297.2 L383.0 297.9 L383.1 298.6 L383.2 299.3 L383.2 300.0 L383.3 300.7 L383.4 301.4 L383.5 302.1 L383.5 302.8 L383.6 303.5 L383.7 304.2 L383.7 304.9 L383.8 305.6 L383.9 306.3 L383.9 306.9 L384.0 307.6 L384.1 308.3 L384.1 309.0 L384.2 309.7 L384.3 310.4 L384.3 311.1 L384.4 311.8 L384.4 312.5 L384.5 313.2 L384.6 313.9 L384.6 314.6 L384.7 315.3 L384.8 316.0 L384.8 316.7 L384.9 317.4 L384.9 318.1 L385.0 318.8 L385.0 319.5 L385.1 320.2 L385.2 320.9 L385.2 321.6 L385.3 322.3 L385.3 323.0 L385.4 323.7 L385.4 324.4 L385.5 325.1 L385.6 325.8 L385.6 326.4 L385.7 327.1 L385.7 327.8 L385.8 328.5 L385.8 329.2 L385.9 329.9 L385.9 330.6 L386.0 331.3 L386.0 332.0 L386.1 332.7 L386.1 333.4 L386.2 334.1 L386.2 334.8 L386.3 335.5 L386.3 336.2 L386.4 336.9 L386.5 337.6 L386.5 338.3 L386.6 339.0 L386.6 339.7 L386.7 340.4 L386.7 341.1 L386.8 341.8 L386.8 342.5 L386.9 343.2 L386.9 343.9 L387.0 344.6 L387.1 345.3 L387.1 346.0 L387.2 346.7 L387.2 347.4 L387.3 348.1 L387.4 348.8 L387.4 349.5 L387.5 350.2 L387.6 350.9 L387.6 351.6 L387.7 352.3 L387.7 353.0 L387.8 353.7 L387.9 354.4 L388.0 355.1 L388.0 355.8 L388.1 356.5 L388.2 357.2 L388.2 357.9 L388.3 358.6 L388.4 359.3 L388.5 360.0 L388.6 360.7 L388.6 361.4 L388.7 362.1 L388.8 362.8 L388.9 363.5 L389.0 364.2 L389.1 364.9 L389.1 365.5 L389.2 366.2 L389.3 366.9 L389.4 367.6 L389.5 368.3 L389.6 369.0 L389.7 369.7 L389.8 370.4 L389.9 371.1 L390.0 371.8 L390.1 372.5 L390.2 373.2 L390.4 373.8 L390.5 374.5 L390.6 375.2 L390.7 375.9 L390.8 376.6 L390.9 377.3 L391.1 378.0 L391.2 378.7 L391.3 379.3 L391.4 380.0 L391.6 380.7 L391.7 381.4 L391.9 382.1 L392.0 382.8 L392.1 383.4 L392.3 384.1 L392.4 384.8 L392.6 385.5 L392.7 386.2 L392.9 386.9 L393.0 387.5 L393.2 388.2 L393.3 388.9 L393.5 389.6 L393.7 390.2 L393.8 390.9 L394.0 391.6 L394.2 392.3 L394.4 393.0 L394.5 393.6 L394.7 394.3 L394.9 395.0 L395.1 395.7 L395.3 396.3 L395.4 397.0 L395.6 397.7 L395.8 398.3 L396.0 399.0 L396.2 399.7 L396.4 400.4 L396.6 401.0 L396.8 401.7 L397.0 402.4 L397.2 403.0 L397.4 403.7 L397.7 404.4 L397.9 405.0 L398.1 405.7 L398.3 406.4 L398.5 407.0 L398.8 407.7 L399.0 408.4 L399.2 409.0 L399.4 409.7 L399.7 410.4 L399.9 411.0 L400.2 411.7 L400.4 412.4 L400.6 413.0 L400.9 413.7 L401.1 414.3 L401.4 415.0 L401.6 415.7 L401.9 416.3 L402.2 417.0 L402.4 417.6 L402.7 418.3 L402.9 419.0 L403.2 419.6 L403.5 420.3 L403.8 420.9 L404.0 421.6 L404.3 422.2 L404.6 422.9 L405.0 423.5 L405.3 424.1 L405.6 424.7 L406.0 425.3 L406.3 425.9 L406.7 426.5 L407.1 427.0 L407.6 427.5 L408.0 428.0 L408.5 428.3 L409.0 428.4 L409.5 428.4 L410.0 428.2 L410.6 427.9 L411.1 427.5 L411.7 427.0 L412.2 426.4 L412.7 425.9 L413.2 425.2 L413.6 424.6 L414.0 424.0 L414.4 423.3 L414.8 422.7 L415.2 422.0 L415.5 421.4 L415.8 420.7 L416.1 420.1 L416.4 419.4 L416.7 418.8 L417.0 418.1 L417.2 417.5 L417.5 416.8 L417.7 416.2 L418.0 415.5 L418.2 414.9 L418.5 414.3 L418.7 413.6 L419.0 413.0 L419.3 412.4 L419.6 411.8 L419.8 411.2 L420.2 410.6 L420.5 410.0 L420.8 409.4 L421.2 408.8 L421.5 408.3 L421.9 407.7 L422.3 407.2 L422.7 406.6 L423.2 406.1 L423.6 405.6 L424.0 405.0 L424.5 404.5 L425.0 404.0 L425.4 403.5 L425.9 402.9 L426.4 402.4 L426.9 401.9 L427.4 401.3 L428.0 400.8 L428.5 400.2 L429.0 399.7 L429.6 399.2 L430.1 398.6 L430.7 398.1 L431.2 397.6 L431.8 397.2 L432.4 396.7 L433.0 396.3 L433.5 396.0 L434.1 395.7 L434.7 395.4 L435.3 395.2 L435.9 395.0 L436.5 394.9 L437.1 394.8 L437.8 394.9 L438.4 394.9 L439.0 395.0 L439.6 395.2 L440.3 395.4 L440.9 395.7 L441.5 396.0 L442.2 396.3 L442.8 396.6 L443.5 397.0 L444.1 397.4 L444.8 397.7 L445.4 398.1 L446.1 398.4 L446.7 398.7 L447.4 398.9 L448.1 399.0 L448.7 399.0 L449.4 399.0 L450.0 398.9 L450.7 398.7 L451.4 398.5 L452.0 398.3 L452.7 398.0 L453.3 397.7 L454.0 397.4 L454.7 397.0 L455.3 396.7 L456.0 396.4 L456.6 396.1 L457.3 395.9 L457.9 395.6 L458.6 395.3 L459.3 395.1 L459.9 394.8 L460.6 394.6 L461.2 394.4 L461.9 394.2 L462.5 394.0 L463.2 393.8 L463.8 393.6 L464.5 393.4 L465.1 393.2 L465.8 393.0 L466.4 392.8 L467.1 392.7 L467.7 392.5 L468.4 392.3 L469.0 392.1 L469.6 391.9 L470.3 391.8 L470.9 391.6 L471.6 391.3 L472.2 391.1 L472.9 390.9 L473.5 390.7 L474.2 390.4 L474.8 390.1 L475.5 389.9 L476.1 389.6 L476.8 389.3 L477.4 388.9 L478.1 388.6 L478.7 388.3 L479.4 387.9 L480.0 387.6 L480.7 387.3 L481.3 387.0 L482.0 386.6 L482.6 386.3 L483.3 386.1 L483.9 385.8 L484.6 385.5 L485.3 385.3 L485.9 385.1 L486.6 384.9 L487.2 384.8 L487.9 384.6 L488.6 384.5 L489.2 384.4 L489.9 384.3 L490.6 384.2 L491.2 384.1 L491.9 384.1 L492.6 384.0 L493.2 383.9 L493.9 383.8 L494.6 383.8 L495.3 383.7 L495.9 383.6 L496.6 383.5 L497.3 383.4 L498.0 383.3 L498.7 383.1 L499.3 383.0 L500.0 382.9 L500.7 382.7 L501.4 382.5 L502.1 382.3 L502.8 382.1 L503.4 381.9 L504.1 381.7 L504.8 381.5 L505.5 381.3 L506.1 381.0 L506.8 380.8 L507.5 380.5 L508.1 380.3 L508.8 380.0 L509.4 379.7 L510.1 379.4 L510.7 379.1 L511.3 378.8 L512.0 378.5 L512.6 378.2 L513.2 377.9 L513.8 377.6 L514.5 377.3 L515.1 376.9 L515.7 376.6 L516.3 376.3 L516.9 375.9 L517.5 375.6 L518.1 375.2 L518.7 374.9 L519.3 374.5 L519.9 374.2 L520.5 373.8 L521.0 373.4 L521.6 373.1 L522.2 372.7 L522.8 372.3 L523.4 372.0 L524.0 371.6 L524.6 371.2 L525.2 370.8 L525.8 370.5 L526.4 370.1 L527.0 369.7 L527.6 369.4 L528.2 369.0 L528.8 368.6 L529.4 368.3 L530.0 367.9 L530.6 367.5 L531.3 367.2 L531.9 366.8 L532.5 366.5 L533.1 366.1 L533.7 365.8 L534.3 365.4 L535.0 365.1 L535.6 364.7 L536.2 364.4 L536.8 364.1 L537.5 363.8 L538.1 363.4 L538.7 363.1 L539.4 362.8 L540.0 362.5 L540.6 362.2 L541.3 361.9 L541.9 361.7 L542.5 361.4 L543.2 361.1 L543.8 360.9 L544.5 360.6 L545.1 360.4 L545.8 360.1 L546.4 359.9 L547.1 359.7 L547.7 359.5 L548.4 359.3 L549.0 359.1 L549.7 358.9 L550.2 358.8" fill="none" stroke="#12ad60" stroke-width="3.1" stroke-linejoin="round" stroke-linecap="round"/>
<path d="M100.0 268.7 L100.7 268.7 L101.4 268.7 L102.1 268.7 L102.8 268.7 L103.5 268.6 L104.2 268.6 L104.9 268.6 L105.6 268.6 L106.3 268.6 L107.0 268.6 L107.7 268.5 L108.4 268.5 L109.1 268.5 L109.8 268.5 L110.5 268.5 L111.2 268.4 L111.9 268.4 L112.6 268.4 L113.3 268.4 L114.0 268.4 L114.7 268.3 L115.4 268.3 L116.1 268.3 L116.8 268.3 L117.5 268.3 L118.2 268.2 L118.9 268.2 L119.6 268.2 L120.3 268.2 L121.0 268.1 L121.7 268.1 L122.4 268.1 L123.1 268.1 L123.8 268.1 L124.5 268.0 L125.2 268.0 L125.9 268.0 L126.6 268.0 L127.3 267.9 L128.0 267.9 L128.7 267.9 L129.4 267.9 L130.1 267.8 L130.8 267.8 L131.5 267.8 L132.2 267.7 L132.9 267.7 L133.6 267.7 L134.3 267.7 L135.0 267.6 L135.7 267.6 L136.4 267.6 L137.1 267.5 L137.8 267.5 L138.5 267.5 L139.2 267.4 L139.9 267.4 L140.6 267.4 L141.3 267.4 L142.0 267.3 L142.7 267.3 L143.4 267.3 L144.1 267.2 L144.8 267.2 L145.5 267.1 L146.2 267.1 L146.9 267.1 L147.6 267.0 L148.3 267.0 L149.0 267.0 L149.7 266.9 L150.4 266.9 L151.1 266.8 L151.8 266.8 L152.5 266.8 L153.2 266.7 L153.9 266.7 L154.6 266.6 L155.3 266.6 L156.0 266.6 L156.7 266.5 L157.4 266.5 L158.1 266.4 L158.8 266.4 L159.5 266.3 L160.1 266.3 L160.8 266.2 L161.5 266.2 L162.2 266.1 L162.9 266.1 L163.6 266.0 L164.3 266.0 L165.0 265.9 L165.7 265.9 L166.4 265.8 L167.1 265.8 L167.8 265.7 L168.5 265.7 L169.2 265.6 L169.9 265.6 L170.6 265.5 L171.3 265.4 L172.0 265.4 L172.7 265.3 L173.4 265.3 L174.1 265.2 L174.8 265.2 L175.5 265.1 L176.2 265.0 L176.9 265.0 L177.6 264.9 L178.3 264.8 L179.0 264.8 L179.7 264.7 L180.4 264.6 L181.1 264.6 L181.8 264.5 L182.5 264.4 L183.2 264.4 L183.9 264.3 L184.6 264.2 L185.3 264.2 L186.0 264.1 L186.7 264.0 L187.4 263.9 L188.1 263.9 L188.7 263.8 L189.4 263.7 L190.1 263.6 L190.8 263.5 L191.5 263.5 L192.2 263.4 L192.9 263.3 L193.6 263.2 L194.3 263.1 L195.0 263.0 L195.7 263.0 L196.4 262.9 L197.1 262.8 L197.8 262.7 L198.5 262.6 L199.2 262.5 L199.9 262.4 L200.6 262.3 L201.2 262.2 L201.9 262.2 L202.6 262.1 L203.3 262.0 L204.0 261.9 L204.7 261.8 L205.4 261.7 L206.1 261.6 L206.8 261.5 L207.5 261.4 L208.2 261.3 L208.9 261.2 L209.6 261.1 L210.2 260.9 L210.9 260.8 L211.6 260.7 L212.3 260.6 L213.0 260.5 L213.7 260.4 L214.4 260.3 L215.1 260.2 L215.8 260.1 L216.5 259.9 L217.1 259.8 L217.8 259.7 L218.5 259.6 L219.2 259.5 L219.9 259.4 L220.6 259.2 L221.3 259.1 L222.0 259.0 L222.7 258.9 L223.3 258.7 L224.0 258.6 L224.7 258.5 L225.4 258.3 L226.1 258.2 L226.8 258.1 L227.5 257.9 L228.2 257.8 L228.8 257.7 L229.5 257.5 L230.2 257.4 L230.9 257.3 L231.6 257.1 L232.3 257.0 L232.9 256.8 L233.6 256.7 L234.3 256.5 L235.0 256.4 L235.7 256.2 L236.4 256.1 L237.1 255.9 L237.7 255.8 L238.4 255.6 L239.1 255.5 L239.8 255.3 L240.5 255.2 L241.1 255.0 L241.8 254.8 L242.5 254.7 L243.2 254.5 L243.9 254.3 L244.5 254.2 L245.2 254.0 L245.9 253.8 L246.6 253.7 L247.3 253.5 L247.9 253.3 L248.6 253.1 L249.3 253.0 L250.0 252.8 L250.6 252.6 L251.3 252.4 L252.0 252.2 L252.7 252.0 L253.3 251.9 L254.0 251.7 L254.7 251.5 L255.4 251.3 L256.0 251.1 L256.7 250.9 L257.4 250.7 L258.1 250.5 L258.7 250.3 L259.4 250.1 L260.1 249.9 L260.7 249.7 L261.4 249.5 L262.1 249.3 L262.7 249.1 L263.4 248.9 L264.1 248.6 L264.8 248.4 L265.4 248.2 L266.1 248.0 L266.7 247.8 L267.4 247.5 L268.1 247.3 L268.7 247.1 L269.4 246.9 L270.1 246.6 L270.7 246.4 L271.4 246.2 L272.1 245.9 L272.7 245.7 L273.4 245.5 L274.0 245.2 L274.7 245.0 L275.3 244.7 L276.0 244.5 L276.7 244.2 L277.3 244.0 L278.0 243.7 L278.6 243.5 L279.3 243.2 L279.9 243.0 L280.6 242.7 L281.2 242.4 L281.9 242.2 L282.5 241.9 L283.2 241.7 L283.8 241.4 L284.5 241.1 L285.1 240.8 L285.8 240.6 L286.4 240.3 L287.1 240.0 L287.7 239.7 L288.3 239.4 L289.0 239.1 L289.6 238.9 L290.3 238.6 L290.9 238.3 L291.5 238.0 L292.2 237.7 L292.8 237.4 L293.4 237.1 L294.1 236.8 L294.7 236.4 L295.3 236.1 L296.0 235.8 L296.6 235.5 L297.2 235.2 L297.8 234.8 L298.4 234.5 L299.0 234.2 L299.7 233.9 L300.3 233.5 L300.9 233.2 L301.5 232.8 L302.1 232.5 L302.7 232.1 L303.3 231.8 L303.9 231.4 L304.5 231.0 L305.1 230.7 L305.7 230.3 L306.2 229.9 L306.8 229.6 L307.4 229.2 L308.0 228.8 L308.6 228.4 L309.1 228.0 L309.7 227.6 L310.3 227.2 L310.8 226.8 L311.4 226.4 L311.9 226.0 L312.5 225.6 L313.0 225.1 L313.6 224.7 L314.1 224.3 L314.7 223.8 L315.2 223.4 L315.7 222.9 L316.3 222.5 L316.8 222.0 L317.3 221.6 L317.8 221.1 L318.3 220.6 L318.8 220.2 L319.3 219.7 L319.8 219.2 L320.3 218.7 L320.8 218.2 L321.3 217.7 L321.8 217.2 L322.3 216.7 L322.8 216.2 L323.2 215.7 L323.7 215.2 L324.2 214.7 L324.7 214.2 L325.1 213.6 L325.6 213.1 L326.0 212.6 L326.5 212.0 L327.0 211.5 L327.4 211.0 L327.9 210.4 L328.3 209.9 L328.7 209.3 L329.2 208.8 L329.6 208.2 L330.0 207.7 L330.5 207.1 L330.9 206.6 L331.3 206.0 L331.8 205.4 L332.2 204.9 L332.6 204.3 L333.0 203.7 L333.4 203.2 L333.8 202.6 L334.3 202.0 L334.7 201.4 L335.1 200.8 L335.5 200.3 L335.9 199.7 L336.3 199.1 L336.7 198.5 L337.1 197.9 L337.5 197.3 L337.8 196.7 L338.2 196.1 L338.6 195.5 L339.0 195.0 L339.4 194.4 L339.8 193.8 L340.2 193.2 L340.5 192.6 L340.9 192.0 L341.3 191.4 L341.7 190.8 L342.0 190.2 L342.4 189.6 L342.8 189.0 L343.2 188.4 L343.5 187.8 L343.9 187.2 L344.2 186.6 L344.6 186.0 L345.0 185.4 L345.3 184.8 L345.7 184.2 L346.1 183.6 L346.4 183.0 L346.8 182.4 L347.1 181.8 L347.5 181.2 L347.8 180.6 L348.2 180.0 L348.5 179.4 L348.9 178.8 L349.2 178.2 L349.6 177.6 L349.9 177.0 L350.3 176.4 L350.6 175.8 L351.0 175.2 L351.3 174.6 L351.7 174.0 L352.0 173.4 L352.3 172.8 L352.7 172.2 L353.0 171.6 L353.4 171.0 L353.7 170.4 L354.0 169.8 L354.4 169.2 L354.7 168.6 L355.1 168.0 L355.4 167.4 L355.8 166.8 L356.1 166.2 L356.5 165.7 L356.8 165.1 L357.2 164.5 L357.5 163.9 L357.9 163.3 L358.3 162.7 L358.6 162.1 L359.0 161.5 L359.4 160.9 L359.8 160.3 L360.2 159.7 L360.6 159.1 L361.0 158.5 L361.4 157.9 L361.8 157.4 L362.2 156.8 L362.7 156.2 L363.1 155.6 L363.6 155.0 L364.0 154.5 L364.5 154.1 L365.0 153.8 L365.4 153.6 L365.9 153.6 L366.3 153.8 L366.8 154.2 L367.2 154.7 L367.6 155.4 L368.1 156.1 L368.5 156.8 L368.8 157.5 L369.2 158.1 L369.6 158.8 L369.9 159.4 L370.2 160.1 L370.5 160.8 L370.8 161.5 L371.0 162.1 L371.3 162.8 L371.5 163.5 L371.7 164.2 L371.9 164.8 L372.1 165.5 L372.3 166.2 L372.5 166.9 L372.7 167.6 L372.8 168.3 L372.9 169.0 L373.1 169.6 L373.2 170.3 L373.3 171.0 L373.4 171.7 L373.6 172.4 L373.7 173.1 L373.8 173.8 L373.9 174.5 L374.0 175.2 L374.1 175.8 L374.2 176.5 L374.3 177.2 L374.4 177.9 L374.5 178.6 L374.6 179.3 L374.7 180.0 L374.8 180.7 L375.0 181.3 L375.1 182.0 L375.2 182.7 L375.3 183.4 L375.5 184.1 L375.6 184.8 L375.7 185.5 L375.9 186.1 L376.0 186.8 L376.2 187.5 L376.3 188.2 L376.5 188.9 L376.6 189.5 L376.8 190.2 L376.9 190.9 L377.1 191.6 L377.2 192.3 L377.4 192.9 L377.6 193.6 L377.7 194.3 L377.9 195.0 L378.1 195.6 L378.2 196.3 L378.4 197.0 L378.6 197.7 L378.8 198.3 L378.9 199.0 L379.1 199.7 L379.3 200.4 L379.5 201.0 L379.7 201.7 L379.9 202.4 L380.1 203.0 L380.3 203.7 L380.5 204.4 L380.7 205.0 L380.9 205.7 L381.1 206.4 L381.3 207.1 L381.5 207.7 L381.7 208.4 L381.9 209.1 L382.1 209.7 L382.4 210.4 L382.6 211.1 L382.8 211.7 L383.0 212.4 L383.2 213.1 L383.5 213.7 L383.7 214.4 L383.9 215.0 L384.1 215.7 L384.4 216.4 L384.6 217.0 L384.8 217.7 L385.1 218.4 L385.3 219.0 L385.6 219.7 L385.8 220.4 L386.0 221.0 L386.3 221.7 L386.5 222.3 L386.8 223.0 L387.0 223.7 L387.2 224.3 L387.5 225.0 L387.7 225.6 L388.0 226.3 L388.2 227.0 L388.5 227.6 L388.7 228.3 L389.0 228.9 L389.2 229.6 L389.4 230.3 L389.7 230.9 L389.9 231.6 L390.2 232.2 L390.4 232.9 L390.6 233.6 L390.9 234.2 L391.1 234.9 L391.3 235.5 L391.6 236.2 L391.8 236.9 L392.0 237.5 L392.3 238.2 L392.5 238.9 L392.7 239.5 L392.9 240.2 L393.1 240.8 L393.4 241.5 L393.6 242.2 L393.8 242.8 L394.0 243.5 L394.2 244.2 L394.4 244.8 L394.6 245.5 L394.8 246.2 L395.0 246.8 L395.1 247.5 L395.3 248.1 L395.5 248.8 L395.7 249.5 L395.9 250.2 L396.0 250.8 L396.2 251.5 L396.3 252.2 L396.5 252.8 L396.6 253.5 L396.8 254.2 L396.9 254.8 L397.1 255.5 L397.2 256.2 L397.3 256.9 L397.4 257.5 L397.6 258.2 L397.7 258.9 L397.8 259.6 L397.9 260.3 L398.1 260.9 L398.2 261.6 L398.3 262.3 L398.5 263.0 L398.6 263.7 L398.7 264.4 L398.9 265.1 L399.0 265.7 L399.1 266.4 L399.3 267.1 L399.4 267.8 L399.6 268.5 L399.8 269.2 L399.9 269.9 L400.1 270.6 L400.3 271.3 L400.5 272.1 L400.7 272.8 L400.9 273.5 L401.2 274.2 L401.4 274.9 L401.6 275.6 L401.9 276.4 L402.2 277.1 L402.4 277.8 L402.7 278.5 L403.0 279.3 L403.3 279.9 L403.7 280.5 L404.0 281.1 L404.3 281.6 L404.7 281.9 L405.0 282.2 L405.4 282.3 L405.7 282.2 L406.1 282.0 L406.4 281.6 L406.8 281.2 L407.1 280.7 L407.5 280.1 L407.8 279.5 L408.1 278.8 L408.4 278.2 L408.8 277.5 L409.1 276.8 L409.4 276.2 L409.7 275.5 L409.9 274.9 L410.2 274.2 L410.5 273.5 L410.8 272.9 L411.1 272.2 L411.3 271.5 L411.6 270.8 L411.9 270.2 L412.1 269.5 L412.4 268.8 L412.6 268.1 L412.9 267.5 L413.1 266.8 L413.4 266.1 L413.6 265.5 L413.8 264.8 L414.1 264.1 L414.3 263.5 L414.6 262.8 L414.8 262.2 L415.0 261.5 L415.3 260.9 L415.5 260.2 L415.8 259.6 L416.0 258.9 L416.3 258.3 L416.5 257.7 L416.8 257.1 L417.0 256.4 L417.3 255.8 L417.5 255.2 L417.8 254.6 L418.1 254.0 L418.4 253.4 L418.6 252.8 L418.9 252.2 L419.2 251.5 L419.5 250.9 L419.8 250.3 L420.1 249.7 L420.5 249.1 L420.8 248.4 L421.1 247.8 L421.5 247.2 L421.8 246.5 L422.2 245.9 L422.5 245.2 L422.9 244.5 L423.3 243.9 L423.7 243.2 L424.1 242.5 L424.6 241.8 L425.0 241.2 L425.4 240.6 L425.9 240.0 L426.4 239.5 L426.9 239.1 L427.4 238.8 L427.9 238.6 L428.5 238.5 L429.0 238.6 L429.6 238.7 L430.1 239.0 L430.6 239.3 L431.0 239.7 L431.4 240.1 L431.8 240.6 L432.1 241.1 L432.5 241.7 L432.8 242.3 L433.0 242.9 L433.3 243.5 L433.5 244.2 L433.8 244.8 L434.0 245.5 L434.2 246.2 L434.4 246.9 L434.6 247.6 L434.8 248.3 L435.0 249.0 L435.1 249.7 L435.3 250.4 L435.5 251.1 L435.7 251.8 L435.9 252.5 L436.0 253.2 L436.2 253.9 L436.3 254.6 L436.5 255.3 L436.7 256.0 L436.8 256.7 L437.0 257.4 L437.1 258.1 L437.3 258.8 L437.4 259.5 L437.5 260.2 L437.7 260.9 L437.8 261.6 L437.9 262.3 L438.1 263.0 L438.2 263.7 L438.3 264.4 L438.5 265.1 L438.6 265.7 L438.7 266.4 L438.8 267.1 L438.9 267.8 L439.0 268.5 L439.1 269.2 L439.3 269.9 L439.4 270.6 L439.5 271.3 L439.6 272.0 L439.7 272.7 L439.8 273.4 L439.9 274.1 L440.0 274.7 L440.1 275.4 L440.1 276.1 L440.2 276.8 L440.3 277.5 L440.4 278.2 L440.5 278.9 L440.6 279.6 L440.7 280.3 L440.7 281.0 L440.8 281.7 L440.9 282.4 L441.0 283.0 L441.1 283.7 L441.1 284.4 L441.2 285.1 L441.3 285.8 L441.4 286.5 L441.4 287.2 L441.5 287.9 L441.6 288.6 L441.7 289.3 L441.7 290.0 L441.8 290.6 L441.9 291.3 L441.9 292.0 L442.0 292.7 L442.1 293.4 L442.1 294.1 L442.2 294.8 L442.3 295.5 L442.3 296.2 L442.4 296.9 L442.5 297.6 L442.5 298.3 L442.6 298.9 L442.7 299.6 L442.7 300.3 L442.8 301.0 L442.9 301.7 L442.9 302.4 L443.0 303.1 L443.1 303.8 L443.1 304.5 L443.2 305.2 L443.3 305.9 L443.3 306.6 L443.4 307.3 L443.5 308.0 L443.5 308.7 L443.6 309.4 L443.7 310.1 L443.7 310.8 L443.8 311.5 L443.9 312.2 L443.9 312.8 L444.0 313.5 L444.1 314.2 L444.1 314.9 L444.2 315.6 L444.3 316.3 L444.3 317.0 L444.4 317.7 L444.5 318.4 L444.5 319.1 L444.6 319.8 L444.7 320.5 L444.8 321.2 L444.8 321.9 L444.9 322.6 L445.0 323.3 L445.0 324.0 L445.1 324.7 L445.2 325.4 L445.3 326.1 L445.3 326.8 L445.4 327.5 L445.5 328.2 L445.5 328.9 L445.6 329.6 L445.7 330.3 L445.8 331.0 L445.8 331.7 L445.9 332.4 L446.0 333.1 L446.1 333.8 L446.1 334.5 L446.2 335.2 L446.3 335.9 L446.3 336.6 L446.4 337.3 L446.5 338.0 L446.6 338.7 L446.6 339.4 L446.7 340.1 L446.8 340.8 L446.9 341.5 L447.0 342.2 L447.0 342.9 L447.1 343.6 L447.2 344.3 L447.3 345.0 L447.3 345.7 L447.4 346.4 L447.5 347.1 L447.6 347.8 L447.7 348.5 L447.7 349.2 L447.8 349.9 L447.9 350.6 L448.0 351.2 L448.1 351.9 L448.1 352.6 L448.2 353.3 L448.3 354.0 L448.4 354.7 L448.5 355.4 L448.5 356.1 L448.6 356.8 L448.7 357.5 L448.8 358.2 L448.9 358.9 L449.0 359.6 L449.0 360.3 L449.1 361.0 L449.2 361.7 L449.3 362.4 L449.4 363.1 L449.5 363.8 L449.6 364.5 L449.6 365.2 L449.7 365.9 L449.8 366.6 L449.9 367.3 L450.0 367.9 L450.1 368.6 L450.2 369.3 L450.3 370.0 L450.4 370.7 L450.4 371.4 L450.5 372.1 L450.6 372.8 L450.7 373.5 L450.8 374.2 L450.9 374.9 L451.0 375.6 L451.1 376.2 L451.2 376.9 L451.3 377.6 L451.4 378.3 L451.5 379.0 L451.6 379.7 L451.7 380.4 L451.8 381.1 L451.9 381.8 L452.0 382.5 L452.1 383.1 L452.3 383.8 L452.4 384.5 L452.5 385.2 L452.6 385.9 L452.7 386.6 L452.8 387.3 L453.0 387.9 L453.1 388.6 L453.2 389.3 L453.3 390.0 L453.5 390.7 L453.6 391.4 L453.7 392.0 L453.9 392.7 L454.0 393.4 L454.2 394.1 L454.3 394.8 L454.5 395.5 L454.6 396.1 L454.8 396.8 L454.9 397.5 L455.1 398.2 L455.2 398.9 L455.4 399.5 L455.6 400.2 L455.7 400.9 L455.9 401.6 L456.1 402.2 L456.2 402.9 L456.4 403.6 L456.6 404.3 L456.8 404.9 L457.0 405.6 L457.2 406.3 L457.4 407.0 L457.6 407.6 L457.8 408.3 L458.0 409.0 L458.2 409.7 L458.4 410.3 L458.6 411.0 L458.8 411.7 L459.0 412.3 L459.3 413.0 L459.5 413.7 L459.7 414.3 L460.0 415.0 L460.2 415.7 L460.5 416.3 L460.7 417.0 L461.0 417.6 L461.3 418.3 L461.5 419.0 L461.8 419.6 L462.1 420.3 L462.3 420.9 L462.6 421.6 L462.9 422.2 L463.2 422.9 L463.5 423.5 L463.8 424.1 L464.1 424.8 L464.5 425.4 L464.8 426.1 L465.1 426.7 L465.5 427.3 L465.8 427.9 L466.2 428.5 L466.6 429.1 L467.1 429.6 L467.6 430.1 L468.1 430.5 L468.6 430.9 L469.2 431.2 L469.7 431.3 L470.3 431.3 L470.8 431.1 L471.3 430.8 L471.7 430.4 L472.2 429.9 L472.7 429.3 L473.1 428.7 L473.5 428.0 L473.9 427.3 L474.3 426.7 L474.7 426.0 L475.0 425.4 L475.4 424.8 L475.7 424.2 L476.1 423.6 L476.4 422.9 L476.7 422.3 L477.0 421.7 L477.4 421.1 L477.7 420.5 L478.0 419.9 L478.3 419.2 L478.6 418.6 L478.9 418.0 L479.2 417.3 L479.5 416.7 L479.8 416.1 L480.1 415.5 L480.4 414.9 L480.8 414.2 L481.1 413.6 L481.4 413.0 L481.8 412.4 L482.1 411.8 L482.5 411.2 L482.8 410.6 L483.2 410.1 L483.6 409.5 L484.0 409.0 L484.4 408.4 L484.8 407.9 L485.3 407.3 L485.7 406.8 L486.2 406.3 L486.6 405.7 L487.1 405.2 L487.6 404.7 L488.1 404.2 L488.6 403.7 L489.1 403.2 L489.6 402.7 L490.1 402.2 L490.6 401.7 L491.2 401.2 L491.7 400.7 L492.3 400.2 L492.8 399.7 L493.4 399.3 L493.9 398.8 L494.5 398.3 L495.1 397.9 L495.7 397.6 L496.3 397.3 L496.9 397.0 L497.5 396.8 L498.1 396.8 L498.7 396.8 L499.3 396.9 L499.9 397.1 L500.6 397.3 L501.2 397.6 L501.8 398.0 L502.4 398.4 L503.1 398.8 L503.7 399.2 L504.4 399.5 L505.0 399.9 L505.7 400.2 L506.3 400.5 L507.0 400.8 L507.6 400.9 L508.3 401.1 L508.9 401.2 L509.6 401.2 L510.2 401.2 L510.9 401.1 L511.5 401.0 L512.2 400.8 L512.9 400.6 L513.5 400.3 L514.2 400.0 L514.8 399.7 L515.5 399.4 L516.1 399.0 L516.8 398.6 L517.4 398.2 L518.1 397.9 L518.8 397.5 L519.4 397.2 L520.1 396.9 L520.7 396.6 L521.4 396.3 L522.0 396.1 L522.7 395.9 L523.3 395.8 L524.0 395.6 L524.6 395.5 L525.3 395.5 L525.9 395.4 L526.6 395.3 L527.3 395.2 L527.9 395.2 L528.6 395.1 L529.2 395.0 L529.9 394.8 L530.5 394.7 L531.2 394.5 L531.8 394.3 L532.4 394.0 L533.1 393.8 L533.7 393.5 L534.4 393.2 L535.0 392.9 L535.7 392.6 L536.3 392.3 L537.0 391.9 L537.6 391.6 L538.3 391.2 L538.9 390.9 L539.5 390.5 L540.2 390.1 L540.8 389.8 L541.5 389.4 L542.1 389.1 L542.7 388.8 L543.4 388.5 L544.0 388.2 L544.7 387.9 L545.3 387.6 L545.9 387.4 L546.6 387.2 L547.2 387.0 L547.8 386.8 L548.4 386.7 L549.1 386.6 L549.7 386.5 L550.1 386.5" fill="none" stroke="#d13b49" stroke-width="3.1" stroke-linejoin="round" stroke-linecap="round"/>
</g>
<text x="100.0" y="475.3" text-anchor="middle" class="tk">0</text>
<text x="175.32999999999998" y="475.3" text-anchor="middle" class="tk">1</text>
<text x="250.66" y="475.3" text-anchor="middle" class="tk">2</text>
<text x="325.99" y="475.3" text-anchor="middle" class="tk">3</text>
<text x="401.32" y="475.3" text-anchor="middle" class="tk">4</text>
<text x="476.65" y="475.3" text-anchor="middle" class="tk">5</text>
<text x="551.98" y="475.3" text-anchor="middle" class="tk">6</text>
<text x="63.8" y="94.5" text-anchor="end" class="tk">60</text>
<text x="63.8" y="174.0" text-anchor="end" class="tk">40</text>
<text x="63.8" y="253.5" text-anchor="end" class="tk">20</text>
<text x="63.8" y="333.0" text-anchor="end" class="tk">0</text>
<text x="63.8" y="412.5" text-anchor="end" class="tk">−20</text>
<line x1="92.4" y1="102.4" x2="125.4" y2="102.4" stroke="#4469b1" stroke-width="3.1" stroke-linecap="round"/>
<text x="140.2" y="108.0" class="lg">re: avg, EXC <tspan class="eps" dx="1.5">ε</tspan></text>
<line x1="92.4" y1="129.4" x2="125.4" y2="129.4" stroke="#12ad60" stroke-width="3.1" stroke-linecap="round"/>
<text x="140.2" y="135.0" class="lg">re: avg, KS-RPA <tspan class="eps" dx="1.5">ε</tspan></text>
<line x1="92.4" y1="156.4" x2="125.4" y2="156.4" stroke="#d13b49" stroke-width="3.1" stroke-linecap="round"/>
<text x="140.2" y="162.0" class="lg">re: avg, GW-RPA <tspan class="eps" dx="1.5">ε</tspan></text>
<text x="325.6" y="499.0" text-anchor="middle" class="al">Frequency (eV)</text>
<text transform="translate(22.6,264.7) rotate(-90)" text-anchor="middle" class="al">Macroscopic DF</text>
</g>
<rect x="0.5" y="504.5" width="27" height="27" fill="#fff" stroke="#cfcfcf" stroke-width="1"/>
<use href="#i-home" x="0" y="504"/>
<rect x="30.5" y="504.5" width="27" height="27" fill="#fff" stroke="#cfcfcf" stroke-width="1"/>
<use href="#i-left" x="30" y="504"/>
<rect x="60.5" y="504.5" width="27" height="27" fill="#fff" stroke="#cfcfcf" stroke-width="1"/>
<use href="#i-right" x="60" y="504"/>
<rect x="101.5" y="504.5" width="27" height="27" fill="#fff" stroke="#cfcfcf" stroke-width="1"/>
<use href="#i-move" x="101" y="504"/>
<rect x="131.5" y="504.5" width="27" height="27" fill="#fff" stroke="#cfcfcf" stroke-width="1"/>
<use href="#i-zoom" x="131" y="504"/>
<rect x="161.5" y="504.5" width="27" height="27" fill="#fff" stroke="#cfcfcf" stroke-width="1"/>
<use href="#i-sliders" x="161" y="504"/>
<rect x="202.5" y="504.5" width="27" height="27" fill="#fff" stroke="#cfcfcf" stroke-width="1"/>
<use href="#i-save" x="202" y="504"/>
<line x1="94.5" y1="505" x2="94.5" y2="531" stroke="#9a9a9a" stroke-width="1"/>
<line x1="195.5" y1="505" x2="195.5" y2="531" stroke="#9a9a9a" stroke-width="1"/>
<!-- shadow -->
<g mask="url(#shm)"><rect x="540" y="0" width="48" height="534" fill="url(#shd)"/><rect x="587" y="0" width="1" height="534" fill="#000" fill-opacity="0.12"/></g>
<!-- window 2 -->
<rect x="588" y="0" width="640" height="534" fill="#fff"/>
<path d="M588 21 V5 Q588 0 593 0 H1228 V21 Z" fill="url(#tb2g)"/>
<rect x="588" y="20.4" width="640" height="1.1" fill="#b4b3b4"/>
<circle cx="602" cy="11" r="6" fill="#fc4c50" stroke="#e0383c" stroke-width="0.6"/><circle cx="622" cy="11" r="6" fill="#fdbb1c" stroke="#e0a014" stroke-width="0.6"/><circle cx="642" cy="11" r="6" fill="#1fcd46" stroke="#16b038" stroke-width="0.6"/>
<text x="907.7" y="15.7" text-anchor="middle" class="t2">Figure 2</text>
<g clip-path="url(#lab2)">
<rect x="668" y="80" width="496" height="369" fill="#eaeaf2"/>
<clipPath id="c591"><rect x="668" y="80" width="496" height="369"/></clipPath>
<g clip-path="url(#c591)">
<line x1="691.0" y1="80" x2="691.0" y2="449" stroke="#fff" stroke-width="1.8"/>
<line x1="766.33" y1="80" x2="766.33" y2="449" stroke="#fff" stroke-width="1.8"/>
<line x1="841.66" y1="80" x2="841.66" y2="449" stroke="#fff" stroke-width="1.8"/>
<line x1="916.99" y1="80" x2="916.99" y2="449" stroke="#fff" stroke-width="1.8"/>
<line x1="992.3199999999999" y1="80" x2="992.3199999999999" y2="449" stroke="#fff" stroke-width="1.8"/>
<line x1="1067.65" y1="80" x2="1067.65" y2="449" stroke="#fff" stroke-width="1.8"/>
<line x1="1142.98" y1="80" x2="1142.98" y2="449" stroke="#fff" stroke-width="1.8"/>
<line x1="668" y1="432.0" x2="1164" y2="432.0" stroke="#fff" stroke-width="1.8"/>
<line x1="668" y1="385.57" x2="1164" y2="385.57" stroke="#fff" stroke-width="1.8"/>
<line x1="668" y1="339.14" x2="1164" y2="339.14" stroke="#fff" stroke-width="1.8"/>
<line x1="668" y1="292.71000000000004" x2="1164" y2="292.71000000000004" stroke="#fff" stroke-width="1.8"/>
<line x1="668" y1="246.28" x2="1164" y2="246.28" stroke="#fff" stroke-width="1.8"/>
<line x1="668" y1="199.85" x2="1164" y2="199.85" stroke="#fff" stroke-width="1.8"/>
<line x1="668" y1="153.42000000000002" x2="1164" y2="153.42000000000002" stroke="#fff" stroke-width="1.8"/>
<line x1="668" y1="106.99000000000001" x2="1164" y2="106.99000000000001" stroke="#fff" stroke-width="1.8"/>
<path d="M691.0 432.0 L691.7 432.0 L692.4 432.0 L693.1 432.0 L693.8 432.0 L694.5 432.0 L695.2 432.0 L695.9 432.0 L696.6 432.0 L697.3 431.9 L698.0 431.9 L698.7 431.9 L699.4 431.9 L700.1 431.9 L700.8 431.9 L701.5 431.9 L702.2 431.9 L702.9 431.9 L703.6 431.9 L704.3 431.9 L705.0 431.9 L705.7 431.8 L706.4 431.8 L707.1 431.8 L707.8 431.8 L708.5 431.8 L709.2 431.8 L709.9 431.8 L710.6 431.8 L711.3 431.8 L712.0 431.8 L712.7 431.7 L713.4 431.7 L714.1 431.7 L714.8 431.7 L715.5 431.7 L716.2 431.7 L716.9 431.7 L717.6 431.7 L718.3 431.6 L719.0 431.6 L719.7 431.6 L720.4 431.6 L721.1 431.6 L721.8 431.6 L722.5 431.6 L723.2 431.6 L723.9 431.5 L724.6 431.5 L725.3 431.5 L726.0 431.5 L726.7 431.5 L727.4 431.5 L728.1 431.5 L728.8 431.4 L729.5 431.4 L730.2 431.4 L730.9 431.4 L731.6 431.4 L732.3 431.4 L733.0 431.3 L733.7 431.3 L734.4 431.3 L735.1 431.3 L735.8 431.3 L736.5 431.3 L737.2 431.2 L737.9 431.2 L738.6 431.2 L739.3 431.2 L740.0 431.2 L740.7 431.1 L741.4 431.1 L742.1 431.1 L742.8 431.1 L743.5 431.1 L744.2 431.0 L744.9 431.0 L745.6 431.0 L746.3 431.0 L747.0 431.0 L747.7 430.9 L748.4 430.9 L749.1 430.9 L749.8 430.9 L750.5 430.9 L751.2 430.8 L751.9 430.8 L752.6 430.8 L753.3 430.8 L754.0 430.7 L754.7 430.7 L755.4 430.7 L756.1 430.7 L756.8 430.6 L757.5 430.6 L758.2 430.6 L758.9 430.6 L759.6 430.5 L760.3 430.5 L761.0 430.5 L761.7 430.5 L762.4 430.4 L763.1 430.4 L763.8 430.4 L764.5 430.3 L765.2 430.3 L765.9 430.3 L766.6 430.3 L767.3 430.2 L768.0 430.2 L768.7 430.2 L769.4 430.1 L770.1 430.1 L770.8 430.1 L771.5 430.0 L772.1 430.0 L772.8 430.0 L773.5 429.9 L774.2 429.9 L774.9 429.9 L775.6 429.8 L776.3 429.8 L777.0 429.8 L777.7 429.7 L778.4 429.7 L779.1 429.7 L779.8 429.6 L780.5 429.6 L781.2 429.6 L781.9 429.5 L782.6 429.5 L783.3 429.5 L784.0 429.4 L784.7 429.4 L785.5 429.3 L786.2 429.3 L786.9 429.3 L787.6 429.2 L788.3 429.2 L789.0 429.2 L789.7 429.1 L790.4 429.1 L791.1 429.0 L791.8 429.0 L792.5 429.0 L793.2 428.9 L793.9 428.9 L794.6 428.8 L795.3 428.8 L796.0 428.7 L796.7 428.7 L797.4 428.7 L798.1 428.6 L798.8 428.6 L799.5 428.5 L800.2 428.5 L800.8 428.4 L801.5 428.4 L802.2 428.4 L802.9 428.3 L803.6 428.3 L804.3 428.2 L805.0 428.2 L805.7 428.1 L806.4 428.1 L807.1 428.0 L807.8 428.0 L808.5 427.9 L809.2 427.9 L809.9 427.8 L810.6 427.8 L811.3 427.7 L812.0 427.7 L812.7 427.6 L813.4 427.6 L814.1 427.5 L814.8 427.5 L815.5 427.4 L816.2 427.4 L816.9 427.3 L817.6 427.3 L818.3 427.2 L819.0 427.2 L819.7 427.1 L820.4 427.1 L821.1 427.0 L821.8 427.0 L822.5 426.9 L823.2 426.9 L823.9 426.8 L824.6 426.8 L825.3 426.7 L826.0 426.6 L826.7 426.6 L827.4 426.5 L828.1 426.5 L828.8 426.4 L829.5 426.3 L830.2 426.3 L830.9 426.2 L831.6 426.1 L832.2 426.1 L832.9 426.0 L833.6 425.9 L834.3 425.9 L835.0 425.8 L835.7 425.7 L836.4 425.6 L837.1 425.6 L837.8 425.5 L838.5 425.4 L839.2 425.3 L839.9 425.3 L840.6 425.2 L841.3 425.1 L842.0 425.0 L842.7 424.9 L843.3 424.8 L844.0 424.7 L844.7 424.6 L845.4 424.5 L846.1 424.4 L846.8 424.3 L847.5 424.2 L848.2 424.1 L848.9 424.0 L849.6 423.9 L850.3 423.8 L850.9 423.7 L851.6 423.6 L852.3 423.5 L853.0 423.4 L853.7 423.3 L854.4 423.1 L855.1 423.0 L855.8 422.9 L856.5 422.8 L857.1 422.6 L857.8 422.5 L858.5 422.4 L859.2 422.2 L859.9 422.1 L860.6 421.9 L861.3 421.8 L862.0 421.7 L862.6 421.5 L863.3 421.3 L864.0 421.2 L864.7 421.0 L865.4 420.9 L866.1 420.7 L866.7 420.5 L867.4 420.4 L868.1 420.2 L868.8 420.0 L869.5 419.9 L870.1 419.7 L870.8 419.5 L871.5 419.3 L872.2 419.1 L872.9 418.9 L873.5 418.7 L874.2 418.5 L874.9 418.3 L875.6 418.1 L876.2 417.9 L876.9 417.7 L877.6 417.5 L878.2 417.3 L878.9 417.0 L879.6 416.8 L880.2 416.6 L880.9 416.4 L881.6 416.1 L882.2 415.9 L882.9 415.6 L883.5 415.4 L884.2 415.1 L884.8 414.8 L885.5 414.6 L886.1 414.3 L886.8 414.0 L887.4 413.7 L888.0 413.4 L888.7 413.1 L889.3 412.8 L889.9 412.5 L890.5 412.2 L891.1 411.8 L891.8 411.5 L892.4 411.2 L893.0 410.8 L893.5 410.4 L894.1 410.1 L894.7 409.7 L895.3 409.3 L895.9 408.9 L896.4 408.5 L897.0 408.1 L897.5 407.7 L898.1 407.2 L898.6 406.8 L899.1 406.3 L899.7 405.9 L900.2 405.4 L900.7 404.9 L901.2 404.4 L901.7 404.0 L902.2 403.5 L902.6 403.0 L903.1 402.4 L903.6 401.9 L904.0 401.4 L904.5 400.9 L904.9 400.3 L905.3 399.8 L905.8 399.2 L906.2 398.7 L906.6 398.1 L907.0 397.5 L907.4 397.0 L907.7 396.4 L908.1 395.8 L908.5 395.2 L908.8 394.6 L909.2 394.0 L909.5 393.4 L909.9 392.8 L910.2 392.2 L910.5 391.5 L910.8 390.9 L911.1 390.3 L911.4 389.7 L911.7 389.0 L912.0 388.4 L912.3 387.7 L912.6 387.1 L912.8 386.5 L913.1 385.8 L913.4 385.1 L913.6 384.5 L913.9 383.8 L914.1 383.2 L914.4 382.5 L914.6 381.8 L914.8 381.2 L915.1 380.5 L915.3 379.8 L915.5 379.2 L915.7 378.5 L916.0 377.8 L916.2 377.1 L916.4 376.5 L916.6 375.8 L916.8 375.1 L917.0 374.4 L917.2 373.8 L917.4 373.1 L917.6 372.4 L917.8 371.7 L918.0 371.0 L918.2 370.4 L918.4 369.7 L918.6 369.0 L918.8 368.3 L918.9 367.7 L919.1 367.0 L919.3 366.3 L919.5 365.6 L919.6 364.9 L919.8 364.2 L920.0 363.6 L920.2 362.9 L920.3 362.2 L920.5 361.5 L920.7 360.8 L920.8 360.2 L921.0 359.5 L921.1 358.8 L921.3 358.1 L921.4 357.4 L921.6 356.7 L921.7 356.1 L921.9 355.4 L922.0 354.7 L922.2 354.0 L922.3 353.3 L922.5 352.6 L922.6 351.9 L922.7 351.3 L922.9 350.6 L923.0 349.9 L923.2 349.2 L923.3 348.5 L923.4 347.8 L923.5 347.1 L923.7 346.4 L923.8 345.8 L923.9 345.1 L924.0 344.4 L924.2 343.7 L924.3 343.0 L924.4 342.3 L924.5 341.6 L924.6 340.9 L924.8 340.3 L924.9 339.6 L925.0 338.9 L925.1 338.2 L925.2 337.5 L925.3 336.8 L925.4 336.1 L925.5 335.4 L925.6 334.7 L925.7 334.0 L925.8 333.4 L925.9 332.7 L926.0 332.0 L926.1 331.3 L926.2 330.6 L926.3 329.9 L926.4 329.2 L926.5 328.5 L926.6 327.8 L926.7 327.1 L926.8 326.4 L926.9 325.7 L927.0 325.0 L927.1 324.4 L927.2 323.7 L927.2 323.0 L927.3 322.3 L927.4 321.6 L927.5 320.9 L927.6 320.2 L927.7 319.5 L927.8 318.8 L927.8 318.1 L927.9 317.4 L928.0 316.7 L928.1 316.0 L928.2 315.3 L928.2 314.6 L928.3 313.9 L928.4 313.3 L928.5 312.6 L928.5 311.9 L928.6 311.2 L928.7 310.5 L928.8 309.8 L928.8 309.1 L928.9 308.4 L929.0 307.7 L929.1 307.0 L929.1 306.3 L929.2 305.6 L929.3 304.9 L929.4 304.2 L929.4 303.5 L929.5 302.8 L929.6 302.1 L929.6 301.4 L929.7 300.7 L929.8 300.0 L929.9 299.3 L929.9 298.7 L930.0 298.0 L930.1 297.3 L930.1 296.6 L930.2 295.9 L930.3 295.2 L930.3 294.5 L930.4 293.8 L930.5 293.1 L930.5 292.4 L930.6 291.7 L930.7 291.0 L930.8 290.3 L930.8 289.6 L930.9 288.9 L931.0 288.2 L931.0 287.5 L931.1 286.8 L931.2 286.1 L931.2 285.4 L931.3 284.7 L931.4 284.0 L931.4 283.3 L931.5 282.6 L931.6 281.9 L931.6 281.2 L931.7 280.5 L931.7 279.9 L931.8 279.2 L931.9 278.5 L931.9 277.8 L932.0 277.1 L932.1 276.4 L932.1 275.7 L932.2 275.0 L932.3 274.3 L932.3 273.6 L932.4 272.9 L932.5 272.2 L932.5 271.5 L932.6 270.8 L932.6 270.1 L932.7 269.4 L932.8 268.7 L932.8 268.0 L932.9 267.3 L933.0 266.6 L933.0 265.9 L933.1 265.2 L933.1 264.5 L933.2 263.8 L933.3 263.1 L933.3 262.4 L933.4 261.7 L933.4 261.0 L933.5 260.3 L933.6 259.6 L933.6 258.9 L933.7 258.2 L933.7 257.5 L933.8 256.8 L933.9 256.1 L933.9 255.4 L934.0 254.7 L934.0 254.1 L934.1 253.4 L934.2 252.7 L934.2 252.0 L934.3 251.3 L934.3 250.6 L934.4 249.9 L934.5 249.2 L934.5 248.5 L934.6 247.8 L934.6 247.1 L934.7 246.4 L934.7 245.7 L934.8 245.0 L934.9 244.3 L934.9 243.6 L935.0 242.9 L935.0 242.2 L935.1 241.5 L935.1 240.8 L935.2 240.1 L935.3 239.4 L935.3 238.7 L935.4 238.0 L935.4 237.3 L935.5 236.6 L935.5 235.9 L935.6 235.2 L935.6 234.5 L935.7 233.8 L935.8 233.1 L935.8 232.4 L935.9 231.7 L935.9 231.0 L936.0 230.3 L936.0 229.6 L936.1 228.9 L936.1 228.2 L936.2 227.5 L936.2 226.8 L936.3 226.1 L936.4 225.4 L936.4 224.7 L936.5 224.0 L936.5 223.3 L936.6 222.6 L936.6 221.9 L936.7 221.2 L936.7 220.5 L936.8 219.8 L936.8 219.1 L936.9 218.5 L936.9 217.8 L937.0 217.1 L937.0 216.4 L937.1 215.7 L937.2 215.0 L937.2 214.3 L937.3 213.6 L937.3 212.9 L937.4 212.2 L937.4 211.5 L937.5 210.8 L937.5 210.1 L937.6 209.4 L937.6 208.7 L937.7 208.0 L937.7 207.3 L937.8 206.6 L937.8 205.9 L937.9 205.2 L937.9 204.5 L938.0 203.8 L938.0 203.1 L938.1 202.4 L938.1 201.7 L938.2 201.0 L938.2 200.3 L938.3 199.6 L938.3 198.9 L938.4 198.2 L938.4 197.5 L938.5 196.8 L938.5 196.1 L938.6 195.4 L938.6 194.7 L938.7 194.0 L938.7 193.3 L938.8 192.6 L938.8 191.9 L938.9 191.2 L938.9 190.5 L939.0 189.8 L939.0 189.1 L939.1 188.4 L939.1 187.7 L939.2 187.0 L939.3 186.3 L939.3 185.6 L939.4 184.9 L939.4 184.2 L939.5 183.5 L939.5 182.8 L939.6 182.1 L939.6 181.4 L939.7 180.7 L939.7 180.0 L939.8 179.3 L939.8 178.6 L939.9 178.0 L939.9 177.3 L940.0 176.6 L940.0 175.9 L940.1 175.2 L940.1 174.5 L940.2 173.8 L940.2 173.1 L940.3 172.4 L940.3 171.7 L940.4 171.0 L940.4 170.3 L940.5 169.6 L940.5 168.9 L940.6 168.2 L940.6 167.5 L940.7 166.8 L940.7 166.1 L940.8 165.4 L940.9 164.7 L940.9 164.0 L941.0 163.3 L941.0 162.6 L941.1 161.9 L941.1 161.2 L941.2 160.5 L941.2 159.8 L941.3 159.1 L941.3 158.4 L941.4 157.7 L941.4 157.0 L941.5 156.3 L941.6 155.6 L941.6 154.9 L941.7 154.2 L941.7 153.5 L941.8 152.8 L941.8 152.1 L941.9 151.4 L941.9 150.7 L942.0 150.0 L942.0 149.3 L942.1 148.6 L942.2 147.9 L942.2 147.3 L942.3 146.6 L942.3 145.9 L942.4 145.2 L942.4 144.5 L942.5 143.8 L942.6 143.1 L942.6 142.4 L942.7 141.7 L942.7 141.0 L942.8 140.3 L942.8 139.6 L942.9 138.9 L943.0 138.2 L943.0 137.5 L943.1 136.8 L943.1 136.1 L943.2 135.4 L943.3 134.7 L943.3 134.0 L943.4 133.3 L943.4 132.6 L943.5 131.9 L943.6 131.2 L943.6 130.5 L943.7 129.8 L943.7 129.1 L943.8 128.4 L943.9 127.7 L943.9 127.0 L944.0 126.3 L944.1 125.7 L944.1 125.0 L944.2 124.3 L944.2 123.6 L944.3 122.9 L944.4 122.2 L944.4 121.5 L944.5 120.8 L944.6 120.1 L944.6 119.4 L944.7 118.7 L944.8 118.0 L944.8 117.3 L944.9 116.6 L945.0 115.9 L945.0 115.2 L945.1 114.5 L945.2 113.8 L945.3 113.1 L945.3 112.4 L945.4 111.7 L945.5 111.0 L945.5 110.3 L945.6 109.6 L945.7 108.9 L945.8 108.2 L945.8 107.5 L945.9 106.8 L946.0 106.1 L946.1 105.4 L946.2 104.7 L946.3 104.1 L946.4 103.4 L946.5 102.7 L946.7 102.0 L946.8 101.3 L947.0 100.6 L947.2 99.9 L947.5 99.2 L947.8 98.5 L948.0 97.8 L948.4 97.2 L948.7 96.7 L949.0 96.5 L949.2 96.7 L949.5 97.0 L949.7 97.6 L949.9 98.3 L950.1 99.0 L950.3 99.7 L950.5 100.4 L950.6 101.1 L950.8 101.9 L950.9 102.6 L951.1 103.3 L951.2 104.0 L951.4 104.7 L951.5 105.4 L951.7 106.1 L951.8 106.8 L951.9 107.5 L952.1 108.2 L952.2 108.9 L952.3 109.5 L952.5 110.2 L952.6 110.9 L952.7 111.6 L952.8 112.3 L953.0 113.0 L953.1 113.7 L953.2 114.4 L953.3 115.0 L953.4 115.7 L953.5 116.4 L953.6 117.1 L953.8 117.8 L953.9 118.5 L954.0 119.2 L954.1 119.9 L954.2 120.5 L954.3 121.2 L954.4 121.9 L954.5 122.6 L954.6 123.3 L954.7 124.0 L954.8 124.7 L954.9 125.4 L955.0 126.1 L955.1 126.7 L955.2 127.4 L955.3 128.1 L955.4 128.8 L955.5 129.5 L955.6 130.2 L955.7 130.9 L955.8 131.6 L955.9 132.3 L956.0 133.0 L956.1 133.7 L956.2 134.3 L956.3 135.0 L956.4 135.7 L956.5 136.4 L956.6 137.1 L956.7 137.8 L956.8 138.5 L956.9 139.2 L957.0 139.9 L957.1 140.6 L957.2 141.3 L957.3 142.0 L957.5 142.6 L957.6 143.3 L957.7 144.0 L957.8 144.7 L957.9 145.4 L958.0 146.1 L958.1 146.8 L958.3 147.5 L958.4 148.2 L958.5 148.9 L958.6 149.6 L958.7 150.3 L958.9 151.0 L959.0 151.6 L959.1 152.3 L959.2 153.0 L959.4 153.7 L959.5 154.4 L959.6 155.1 L959.8 155.8 L959.9 156.5 L960.0 157.2 L960.2 157.9 L960.3 158.5 L960.4 159.2 L960.6 159.9 L960.7 160.6 L960.9 161.3 L961.0 162.0 L961.1 162.7 L961.3 163.4 L961.4 164.0 L961.6 164.7 L961.7 165.4 L961.9 166.1 L962.0 166.8 L962.2 167.5 L962.3 168.2 L962.5 168.8 L962.6 169.5 L962.8 170.2 L962.9 170.9 L963.1 171.6 L963.2 172.3 L963.4 172.9 L963.6 173.6 L963.7 174.3 L963.9 175.0 L964.1 175.6 L964.2 176.3 L964.4 177.0 L964.6 177.7 L964.7 178.4 L964.9 179.0 L965.1 179.7 L965.2 180.4 L965.4 181.1 L965.6 181.7 L965.7 182.4 L965.9 183.1 L966.1 183.8 L966.3 184.4 L966.4 185.1 L966.6 185.8 L966.8 186.5 L967.0 187.1 L967.2 187.8 L967.3 188.5 L967.5 189.2 L967.7 189.8 L967.9 190.5 L968.1 191.2 L968.3 191.9 L968.4 192.5 L968.6 193.2 L968.8 193.9 L969.0 194.5 L969.2 195.2 L969.4 195.9 L969.6 196.6 L969.8 197.2 L970.0 197.9 L970.2 198.6 L970.4 199.2 L970.5 199.9 L970.7 200.6 L970.9 201.3 L971.1 201.9 L971.3 202.6 L971.5 203.3 L971.7 203.9 L971.9 204.6 L972.1 205.3 L972.3 206.0 L972.5 206.6 L972.7 207.3 L972.9 208.0 L973.1 208.6 L973.3 209.3 L973.5 210.0 L973.7 210.7 L973.9 211.3 L974.1 212.0 L974.3 212.7 L974.5 213.3 L974.7 214.0 L974.9 214.7 L975.1 215.4 L975.3 216.0 L975.5 216.7 L975.7 217.4 L975.9 218.1 L976.1 218.7 L976.3 219.4 L976.5 220.1 L976.7 220.7 L976.9 221.4 L977.1 222.1 L977.3 222.8 L977.5 223.4 L977.7 224.1 L977.8 224.8 L978.0 225.5 L978.2 226.1 L978.4 226.8 L978.6 227.5 L978.8 228.2 L978.9 228.9 L979.1 229.5 L979.3 230.2 L979.5 230.9 L979.6 231.6 L979.8 232.3 L980.0 232.9 L980.2 233.6 L980.3 234.3 L980.5 235.0 L980.7 235.7 L980.8 236.3 L981.0 237.0 L981.1 237.7 L981.3 238.4 L981.5 239.1 L981.6 239.7 L981.8 240.4 L981.9 241.1 L982.1 241.8 L982.2 242.5 L982.4 243.2 L982.5 243.8 L982.6 244.5 L982.8 245.2 L982.9 245.9 L983.1 246.6 L983.2 247.3 L983.3 247.9 L983.5 248.6 L983.6 249.3 L983.7 250.0 L983.8 250.7 L984.0 251.4 L984.1 252.0 L984.2 252.7 L984.3 253.4 L984.4 254.1 L984.6 254.8 L984.7 255.5 L984.8 256.2 L984.9 256.8 L985.0 257.5 L985.2 258.2 L985.3 258.9 L985.4 259.6 L985.5 260.3 L985.7 261.0 L985.8 261.7 L986.0 262.3 L986.1 263.0 L986.3 263.7 L986.4 264.4 L986.6 265.1 L986.8 265.8 L987.0 266.5 L987.1 267.2 L987.3 267.8 L987.6 268.5 L987.8 269.2 L988.0 269.9 L988.2 270.5 L988.5 271.2 L988.8 271.9 L989.0 272.6 L989.3 273.2 L989.6 273.9 L989.9 274.5 L990.2 275.2 L990.6 275.8 L990.9 276.4 L991.3 276.9 L991.7 277.3 L992.1 277.6 L992.5 277.7 L992.9 277.6 L993.4 277.3 L993.8 276.9 L994.3 276.3 L994.7 275.6 L995.1 274.9 L995.5 274.1 L995.8 273.3 L996.1 272.6 L996.4 271.9 L996.6 271.2 L996.8 270.5 L997.0 269.9 L997.1 269.2 L997.3 268.6 L997.4 268.0 L997.5 267.4 L997.5 266.7 L997.6 266.1 L997.7 265.5 L997.8 264.8 L997.8 264.1 L997.9 263.4 L998.0 262.6 L998.2 261.9 L998.3 261.1 L998.5 260.4 L998.7 259.6 L998.9 258.9 L999.2 258.2 L999.6 257.6 L999.9 257.0 L1000.3 256.5 L1000.8 256.0 L1001.4 255.6 L1001.9 255.3 L1002.5 255.1 L1003.1 255.0 L1003.8 255.0 L1004.4 255.2 L1005.0 255.3 L1005.7 255.4 L1006.3 255.4 L1006.8 255.2 L1007.4 254.9 L1007.8 254.5 L1008.3 253.9 L1008.7 253.3 L1009.1 252.7 L1009.4 252.0 L1009.8 251.2 L1010.1 250.5 L1010.5 249.7 L1010.8 249.0 L1011.2 248.3 L1011.6 247.7 L1012.0 247.3 L1012.4 247.0 L1012.7 246.9 L1013.1 247.0 L1013.5 247.3 L1013.8 247.7 L1014.1 248.1 L1014.4 248.7 L1014.7 249.2 L1015.0 249.9 L1015.3 250.5 L1015.6 251.2 L1015.8 252.0 L1016.0 252.7 L1016.2 253.5 L1016.4 254.2 L1016.6 255.0 L1016.8 255.7 L1017.0 256.5 L1017.1 257.2 L1017.3 257.9 L1017.4 258.5 L1017.5 259.2 L1017.7 259.8 L1017.8 260.4 L1018.0 261.0 L1018.1 261.7 L1018.3 262.3 L1018.4 262.9 L1018.6 263.6 L1018.8 264.2 L1019.0 264.9 L1019.3 265.6 L1019.6 266.3 L1019.9 267.1 L1020.2 267.7 L1020.6 268.4 L1021.1 268.9 L1021.6 269.4 L1022.1 269.7 L1022.8 270.0 L1023.4 270.2 L1024.1 270.3 L1024.8 270.5 L1025.4 270.6 L1026.0 270.9 L1026.5 271.3 L1026.9 271.8 L1027.3 272.3 L1027.7 272.9 L1028.0 273.5 L1028.2 274.2 L1028.5 274.8 L1028.7 275.5 L1028.9 276.2 L1029.1 276.9 L1029.2 277.6 L1029.4 278.3 L1029.5 278.9 L1029.6 279.6 L1029.7 280.3 L1029.8 281.0 L1029.9 281.7 L1030.0 282.4 L1030.1 283.1 L1030.2 283.8 L1030.3 284.5 L1030.3 285.2 L1030.4 285.9 L1030.5 286.6 L1030.6 287.3 L1030.7 288.0 L1030.7 288.7 L1030.8 289.4 L1030.9 290.1 L1031.0 290.8 L1031.1 291.4 L1031.2 292.1 L1031.3 292.8 L1031.4 293.5 L1031.5 294.2 L1031.6 294.9 L1031.7 295.6 L1031.8 296.3 L1031.9 297.0 L1032.0 297.7 L1032.1 298.4 L1032.2 299.1 L1032.3 299.8 L1032.4 300.5 L1032.5 301.2 L1032.6 301.8 L1032.7 302.5 L1032.8 303.2 L1032.9 303.9 L1033.0 304.6 L1033.1 305.3 L1033.2 306.0 L1033.3 306.7 L1033.4 307.4 L1033.5 308.1 L1033.6 308.8 L1033.7 309.5 L1033.8 310.2 L1033.9 310.9 L1034.0 311.6 L1034.1 312.2 L1034.2 312.9 L1034.3 313.6 L1034.4 314.3 L1034.5 315.0 L1034.6 315.7 L1034.7 316.4 L1034.7 317.1 L1034.8 317.8 L1034.9 318.5 L1035.0 319.2 L1035.1 319.9 L1035.2 320.6 L1035.3 321.3 L1035.4 322.0 L1035.5 322.7 L1035.7 323.3 L1035.8 324.0 L1035.9 324.7 L1036.1 325.4 L1036.3 326.0 L1036.5 326.7 L1036.7 327.4 L1036.9 328.0 L1037.2 328.6 L1037.4 329.3 L1037.7 329.9 L1038.1 330.5 L1038.4 331.2 L1038.8 331.8 L1039.2 332.4 L1039.6 332.9 L1040.0 333.5 L1040.5 334.1 L1040.9 334.7 L1041.4 335.2 L1041.9 335.8 L1042.3 336.3 L1042.7 336.9 L1043.1 337.5 L1043.4 338.0 L1043.7 338.6 L1044.0 339.2 L1044.3 339.7 L1044.6 340.3 L1044.9 340.9 L1045.1 341.5 L1045.4 342.1 L1045.6 342.8 L1045.9 343.4 L1046.1 344.0 L1046.4 344.7 L1046.6 345.3 L1046.8 346.0 L1047.1 346.6 L1047.3 347.3 L1047.5 348.0 L1047.7 348.6 L1048.0 349.3 L1048.2 350.0 L1048.5 350.7 L1048.7 351.3 L1049.0 352.0 L1049.2 352.7 L1049.5 353.3 L1049.8 354.0 L1050.0 354.7 L1050.3 355.3 L1050.6 356.0 L1050.9 356.6 L1051.3 357.2 L1051.6 357.9 L1051.9 358.5 L1052.3 359.1 L1052.6 359.7 L1052.9 360.4 L1053.3 361.0 L1053.6 361.6 L1053.9 362.2 L1054.3 362.8 L1054.6 363.4 L1054.9 364.1 L1055.1 364.7 L1055.4 365.3 L1055.7 365.9 L1055.9 366.6 L1056.1 367.2 L1056.3 367.9 L1056.4 368.5 L1056.6 369.2 L1056.7 369.9 L1056.8 370.5 L1056.9 371.2 L1057.0 371.9 L1057.0 372.6 L1057.1 373.3 L1057.2 374.0 L1057.2 374.7 L1057.3 375.5 L1057.4 376.2 L1057.5 376.9 L1057.6 377.7 L1057.7 378.4 L1057.8 379.2 L1058.0 379.9 L1058.2 380.7 L1058.4 381.5 L1058.6 382.2 L1058.8 382.9 L1059.0 383.4 L1059.3 383.9 L1059.5 384.3 L1059.7 384.5 L1059.9 384.4 L1060.0 384.2 L1060.2 383.8 L1060.3 383.2 L1060.4 382.5 L1060.5 381.8 L1060.6 380.9 L1060.7 380.1 L1060.7 379.2 L1060.8 378.4 L1060.8 377.6 L1060.8 376.9 L1060.8 376.2 L1060.8 375.4 L1060.8 374.8 L1060.8 374.1 L1060.8 373.4 L1060.8 372.8 L1060.8 372.1 L1060.8 371.5 L1060.8 370.9 L1060.7 370.2 L1060.7 369.6 L1060.7 368.9 L1060.7 368.3 L1060.7 367.6 L1060.8 366.9 L1060.8 366.2 L1060.8 365.5 L1060.9 364.7 L1060.9 363.9 L1061.0 363.1 L1061.1 362.3 L1061.2 361.4 L1061.3 360.6 L1061.4 359.8 L1061.5 359.0 L1061.7 358.4 L1061.8 357.9 L1062.0 357.6 L1062.2 357.5 L1062.3 357.7 L1062.5 358.1 L1062.7 358.7 L1062.8 359.3 L1063.0 360.0 L1063.2 360.7 L1063.4 361.4 L1063.5 362.1 L1063.7 362.8 L1063.9 363.4 L1064.0 364.1 L1064.2 364.8 L1064.3 365.5 L1064.5 366.2 L1064.7 366.9 L1064.8 367.6 L1065.0 368.3 L1065.1 369.0 L1065.3 369.7 L1065.5 370.4 L1065.6 371.0 L1065.8 371.7 L1065.9 372.4 L1066.1 373.1 L1066.2 373.8 L1066.4 374.5 L1066.5 375.2 L1066.7 375.9 L1066.9 376.5 L1067.0 377.2 L1067.2 377.9 L1067.3 378.6 L1067.5 379.2 L1067.6 379.9 L1067.8 380.6 L1068.0 381.3 L1068.2 381.9 L1068.4 382.6 L1068.6 383.2 L1068.8 383.9 L1069.1 384.5 L1069.3 385.2 L1069.6 385.8 L1069.9 386.4 L1070.3 387.1 L1070.6 387.7 L1071.0 388.3 L1071.4 388.9 L1071.8 389.5 L1072.2 390.1 L1072.7 390.7 L1073.2 391.3 L1073.8 391.7 L1074.3 392.1 L1074.8 392.4 L1075.4 392.6 L1076.0 392.7 L1076.5 392.6 L1077.1 392.4 L1077.7 392.1 L1078.2 391.6 L1078.7 391.2 L1079.3 390.6 L1079.8 390.0 L1080.3 389.4 L1080.7 388.8 L1081.2 388.2 L1081.7 387.6 L1082.2 387.0 L1082.6 386.5 L1083.1 386.1 L1083.6 385.7 L1084.1 385.3 L1084.6 385.0 L1085.2 384.6 L1085.7 384.3 L1086.3 383.9 L1086.9 383.6 L1087.5 383.3 L1088.1 383.1 L1088.7 382.9 L1089.4 383.0 L1089.9 383.1 L1090.5 383.5 L1091.1 383.9 L1091.6 384.5 L1092.0 385.1 L1092.5 385.8 L1092.8 386.4 L1093.2 387.1 L1093.4 387.8 L1093.7 388.4 L1093.9 389.1 L1094.1 389.8 L1094.3 390.5 L1094.5 391.1 L1094.6 391.8 L1094.8 392.5 L1095.0 393.1 L1095.1 393.8 L1095.3 394.4 L1095.6 395.1 L1095.8 395.7 L1096.1 396.3 L1096.4 396.9 L1096.8 397.5 L1097.2 398.0 L1097.7 398.6 L1098.3 399.1 L1098.9 399.5 L1099.5 399.9 L1100.2 400.2 L1100.8 400.3 L1101.5 400.3 L1102.2 400.2 L1102.8 399.9 L1103.4 399.5 L1104.0 399.1 L1104.5 398.5 L1104.9 398.0 L1105.3 397.4 L1105.6 396.8 L1105.9 396.2 L1106.2 395.6 L1106.4 394.9 L1106.7 394.3 L1107.1 393.6 L1107.4 393.0 L1107.9 392.3 L1108.3 391.7 L1108.8 391.2 L1109.4 390.9 L1109.9 390.7 L1110.4 390.7 L1110.9 390.9 L1111.4 391.3 L1111.9 391.8 L1112.4 392.4 L1112.8 393.0 L1113.2 393.7 L1113.6 394.3 L1114.0 394.9 L1114.3 395.5 L1114.6 396.2 L1114.9 396.8 L1115.2 397.4 L1115.5 398.0 L1115.8 398.6 L1116.1 399.2 L1116.4 399.8 L1116.7 400.5 L1117.0 401.1 L1117.3 401.7 L1117.7 402.3 L1118.0 403.0 L1118.3 403.6 L1118.7 404.2 L1119.1 404.8 L1119.4 405.4 L1119.8 406.0 L1120.3 406.6 L1120.7 407.2 L1121.2 407.8 L1121.6 408.3 L1122.1 408.7 L1122.7 409.1 L1123.2 409.4 L1123.8 409.6 L1124.4 409.7 L1125.0 409.7 L1125.7 409.5 L1126.3 409.3 L1126.9 408.9 L1127.4 408.5 L1127.9 408.0 L1128.3 407.5 L1128.7 406.9 L1129.0 406.2 L1129.3 405.6 L1129.6 404.8 L1129.9 404.1 L1130.2 403.4 L1130.4 402.6 L1130.7 401.9 L1131.0 401.2 L1131.4 400.5 L1131.7 399.9 L1132.1 399.3 L1132.5 398.8 L1132.9 398.3 L1133.3 398.0 L1133.7 397.8 L1134.1 397.9 L1134.5 398.1 L1134.9 398.5 L1135.2 399.1 L1135.6 399.7 L1136.0 400.4 L1136.3 401.1 L1136.6 401.9 L1136.9 402.6 L1137.1 403.3 L1137.4 403.9 L1137.6 404.6 L1137.9 405.2 L1138.1 405.8 L1138.4 406.4 L1138.7 407.0 L1139.0 407.6 L1139.3 408.2 L1139.7 408.8 L1140.1 409.4 L1140.6 409.9 L1141.1 410.5 L1141.4 410.8" fill="none" stroke="#4469b1" stroke-width="3.1" stroke-linejoin="round" stroke-linecap="round"/>
<path d="M691.0 432.0 L691.7 432.0 L692.4 432.0 L693.1 432.0 L693.8 432.0 L694.5 432.1 L695.2 432.1 L695.9 432.1 L696.6 432.1 L697.3 432.1 L698.0 432.1 L698.7 432.1 L699.4 432.1 L700.1 432.1 L700.8 432.1 L701.5 432.1 L702.2 432.1 L702.9 432.1 L703.6 432.1 L704.3 432.1 L705.0 432.1 L705.7 432.1 L706.4 432.1 L707.1 432.1 L707.8 432.1 L708.5 432.1 L709.2 432.1 L709.9 432.1 L710.6 432.1 L711.3 432.1 L712.0 432.1 L712.7 432.1 L713.4 432.0 L714.1 432.0 L714.8 432.0 L715.5 432.0 L716.2 432.0 L716.9 432.0 L717.6 432.0 L718.3 432.0 L719.0 432.0 L719.7 432.0 L720.4 431.9 L721.1 431.9 L721.8 431.9 L722.5 431.9 L723.2 431.9 L723.9 431.9 L724.6 431.9 L725.3 431.8 L726.0 431.8 L726.7 431.8 L727.4 431.8 L728.1 431.8 L728.8 431.8 L729.5 431.7 L730.2 431.7 L730.9 431.7 L731.6 431.7 L732.3 431.6 L733.0 431.6 L733.7 431.6 L734.4 431.6 L735.1 431.6 L735.8 431.5 L736.5 431.5 L737.2 431.5 L737.9 431.5 L738.6 431.4 L739.3 431.4 L740.0 431.4 L740.7 431.3 L741.4 431.3 L742.1 431.3 L742.8 431.3 L743.5 431.2 L744.2 431.2 L744.9 431.2 L745.6 431.1 L746.3 431.1 L747.0 431.1 L747.7 431.0 L748.4 431.0 L749.1 431.0 L749.8 430.9 L750.5 430.9 L751.2 430.9 L751.9 430.8 L752.6 430.8 L753.3 430.7 L754.0 430.7 L754.7 430.7 L755.4 430.6 L756.1 430.6 L756.8 430.5 L757.5 430.5 L758.2 430.5 L758.9 430.4 L759.6 430.4 L760.3 430.3 L761.0 430.3 L761.7 430.2 L762.4 430.2 L763.1 430.1 L763.8 430.1 L764.5 430.1 L765.2 430.0 L765.8 430.0 L766.5 429.9 L767.2 429.9 L767.9 429.8 L768.6 429.8 L769.3 429.7 L770.0 429.7 L770.7 429.6 L771.4 429.5 L772.1 429.5 L772.8 429.4 L773.5 429.4 L774.2 429.3 L774.9 429.3 L775.6 429.2 L776.3 429.2 L777.0 429.1 L777.7 429.0 L778.4 429.0 L779.1 428.9 L779.8 428.9 L780.5 428.8 L781.2 428.7 L781.9 428.7 L782.6 428.6 L783.3 428.6 L784.0 428.5 L784.7 428.4 L785.4 428.4 L786.1 428.3 L786.8 428.2 L787.5 428.2 L788.2 428.1 L788.9 428.0 L789.6 428.0 L790.3 427.9 L791.0 427.8 L791.7 427.8 L792.3 427.7 L793.0 427.6 L793.7 427.5 L794.4 427.5 L795.1 427.4 L795.8 427.3 L796.5 427.3 L797.2 427.2 L797.9 427.1 L798.6 427.0 L799.3 427.0 L800.0 426.9 L800.7 426.8 L801.4 426.7 L802.1 426.6 L802.8 426.6 L803.5 426.5 L804.2 426.4 L804.9 426.3 L805.6 426.2 L806.3 426.2 L807.0 426.1 L807.7 426.0 L808.4 425.9 L809.1 425.8 L809.7 425.7 L810.4 425.7 L811.1 425.6 L811.8 425.5 L812.5 425.4 L813.2 425.3 L813.9 425.2 L814.6 425.1 L815.3 425.0 L816.0 424.9 L816.7 424.9 L817.4 424.8 L818.1 424.7 L818.8 424.6 L819.5 424.5 L820.2 424.4 L820.9 424.3 L821.6 424.2 L822.3 424.1 L822.9 424.0 L823.6 423.9 L824.3 423.8 L825.0 423.7 L825.7 423.6 L826.4 423.5 L827.1 423.4 L827.8 423.3 L828.5 423.2 L829.2 423.0 L829.9 422.9 L830.6 422.8 L831.2 422.7 L831.9 422.6 L832.6 422.4 L833.3 422.3 L834.0 422.2 L834.7 422.0 L835.3 421.9 L836.0 421.7 L836.7 421.6 L837.4 421.4 L838.1 421.2 L838.7 421.1 L839.4 420.9 L840.1 420.7 L840.8 420.6 L841.4 420.4 L842.1 420.2 L842.8 420.0 L843.4 419.8 L844.1 419.6 L844.8 419.4 L845.4 419.2 L846.1 418.9 L846.7 418.7 L847.4 418.5 L848.1 418.2 L848.7 418.0 L849.4 417.7 L850.0 417.5 L850.7 417.2 L851.3 416.9 L851.9 416.6 L852.6 416.3 L853.2 416.0 L853.9 415.7 L854.5 415.4 L855.1 415.1 L855.7 414.8 L856.4 414.4 L857.0 414.1 L857.6 413.7 L858.2 413.4 L858.8 413.0 L859.4 412.6 L860.0 412.3 L860.6 411.9 L861.2 411.5 L861.8 411.1 L862.3 410.7 L862.9 410.3 L863.5 409.8 L864.0 409.4 L864.6 409.0 L865.1 408.5 L865.7 408.1 L866.2 407.6 L866.7 407.2 L867.2 406.7 L867.7 406.2 L868.2 405.7 L868.7 405.2 L869.2 404.7 L869.7 404.2 L870.2 403.7 L870.6 403.2 L871.1 402.7 L871.5 402.1 L872.0 401.6 L872.4 401.0 L872.8 400.5 L873.3 399.9 L873.7 399.4 L874.1 398.8 L874.5 398.2 L874.9 397.7 L875.3 397.1 L875.6 396.5 L876.0 395.9 L876.4 395.3 L876.7 394.7 L877.1 394.1 L877.4 393.5 L877.8 392.9 L878.1 392.3 L878.5 391.6 L878.8 391.0 L879.1 390.4 L879.4 389.8 L879.7 389.1 L880.0 388.5 L880.3 387.9 L880.6 387.2 L880.9 386.6 L881.2 385.9 L881.5 385.3 L881.7 384.7 L882.0 384.0 L882.3 383.3 L882.5 382.7 L882.8 382.0 L883.0 381.4 L883.2 380.7 L883.5 380.1 L883.7 379.4 L883.9 378.8 L884.2 378.1 L884.4 377.4 L884.6 376.8 L884.8 376.1 L885.0 375.4 L885.2 374.8 L885.4 374.1 L885.6 373.4 L885.8 372.8 L886.0 372.1 L886.2 371.4 L886.4 370.8 L886.6 370.1 L886.8 369.4 L886.9 368.8 L887.1 368.1 L887.3 367.4 L887.5 366.7 L887.6 366.1 L887.8 365.4 L888.0 364.7 L888.1 364.0 L888.3 363.4 L888.4 362.7 L888.6 362.0 L888.7 361.3 L888.9 360.6 L889.1 360.0 L889.2 359.3 L889.4 358.6 L889.5 357.9 L889.7 357.2 L889.8 356.5 L889.9 355.9 L890.1 355.2 L890.2 354.5 L890.4 353.8 L890.5 353.1 L890.7 352.4 L890.8 351.7 L891.0 351.1 L891.1 350.4 L891.3 349.7 L891.4 349.0 L891.5 348.3 L891.7 347.6 L891.8 346.9 L892.0 346.2 L892.1 345.5 L892.2 344.9 L892.4 344.2 L892.5 343.5 L892.7 342.8 L892.8 342.1 L892.9 341.4 L893.1 340.7 L893.2 340.0 L893.3 339.3 L893.5 338.6 L893.6 337.9 L893.7 337.2 L893.8 336.6 L894.0 335.9 L894.1 335.2 L894.2 334.5 L894.3 333.8 L894.5 333.1 L894.6 332.4 L894.7 331.7 L894.8 331.0 L894.9 330.3 L895.0 329.6 L895.1 328.9 L895.3 328.2 L895.4 327.5 L895.5 326.9 L895.6 326.2 L895.7 325.5 L895.8 324.8 L895.9 324.1 L896.0 323.4 L896.1 322.7 L896.2 322.0 L896.3 321.3 L896.4 320.6 L896.5 319.9 L896.6 319.2 L896.7 318.5 L896.8 317.8 L896.8 317.2 L896.9 316.5 L897.0 315.8 L897.1 315.1 L897.2 314.4 L897.3 313.7 L897.4 313.0 L897.5 312.3 L897.5 311.6 L897.6 310.9 L897.7 310.2 L897.8 309.5 L897.9 308.8 L898.0 308.2 L898.0 307.5 L898.1 306.8 L898.2 306.1 L898.3 305.4 L898.4 304.7 L898.5 304.0 L898.5 303.3 L898.6 302.6 L898.7 301.9 L898.8 301.2 L898.9 300.5 L899.0 299.9 L899.1 299.2 L899.1 298.5 L899.2 297.8 L899.3 297.1 L899.4 296.4 L899.5 295.7 L899.6 295.0 L899.7 294.3 L899.7 293.6 L899.8 292.9 L899.9 292.2 L900.0 291.5 L900.1 290.9 L900.2 290.2 L900.3 289.5 L900.4 288.8 L900.5 288.1 L900.6 287.4 L900.7 286.7 L900.8 286.0 L900.9 285.3 L901.0 284.6 L901.1 283.9 L901.2 283.2 L901.3 282.6 L901.4 281.9 L901.5 281.2 L901.6 280.5 L901.7 279.8 L901.9 279.1 L902.0 278.4 L902.1 277.7 L902.2 277.0 L902.3 276.3 L902.5 275.6 L902.6 274.9 L902.7 274.2 L902.8 273.6 L903.0 272.9 L903.1 272.2 L903.3 271.5 L903.4 270.8 L903.5 270.1 L903.7 269.4 L903.9 268.7 L904.0 268.0 L904.2 267.3 L904.4 266.7 L904.5 266.0 L904.7 265.3 L904.9 264.6 L905.1 264.0 L905.3 263.3 L905.5 262.6 L905.7 261.9 L906.0 261.3 L906.2 260.6 L906.4 260.0 L906.7 259.3 L907.0 258.7 L907.2 258.0 L907.5 257.4 L907.8 256.7 L908.1 256.1 L908.5 255.5 L908.8 254.9 L909.2 254.3 L909.6 253.8 L910.0 253.2 L910.4 252.7 L910.8 252.2 L911.3 251.8 L911.8 251.4 L912.4 251.0 L912.9 250.6 L913.5 250.4 L914.2 250.1 L914.8 249.9 L915.5 249.7 L916.2 249.5 L916.9 249.3 L917.6 249.0 L918.2 248.8 L918.9 248.6 L919.5 248.3 L920.1 247.9 L920.6 247.5 L921.1 247.0 L921.5 246.5 L921.9 245.9 L922.2 245.2 L922.5 244.5 L922.9 243.7 L923.2 243.0 L923.6 242.3 L924.0 241.6 L924.4 241.0 L924.9 240.4 L925.5 239.9 L926.0 239.5 L926.5 239.3 L927.1 239.1 L927.6 239.2 L928.0 239.3 L928.5 239.7 L928.9 240.1 L929.2 240.6 L929.6 241.2 L929.9 241.9 L930.2 242.5 L930.5 243.2 L930.7 243.9 L931.0 244.6 L931.2 245.3 L931.4 246.0 L931.6 246.7 L931.8 247.3 L931.9 248.0 L932.1 248.7 L932.3 249.4 L932.4 250.1 L932.6 250.8 L932.7 251.4 L932.9 252.1 L933.0 252.8 L933.1 253.5 L933.3 254.2 L933.4 254.9 L933.5 255.5 L933.7 256.2 L933.8 256.9 L933.9 257.6 L934.0 258.3 L934.1 259.0 L934.3 259.7 L934.4 260.4 L934.5 261.0 L934.6 261.7 L934.8 262.4 L934.9 263.1 L935.0 263.8 L935.1 264.5 L935.3 265.2 L935.4 265.8 L935.5 266.5 L935.7 267.2 L935.8 267.9 L935.9 268.6 L936.1 269.3 L936.2 270.0 L936.4 270.7 L936.5 271.3 L936.7 272.0 L936.9 272.7 L937.0 273.4 L937.2 274.1 L937.4 274.8 L937.6 275.4 L937.8 276.1 L938.0 276.8 L938.2 277.5 L938.4 278.1 L938.6 278.8 L938.8 279.5 L939.0 280.1 L939.2 280.8 L939.4 281.4 L939.7 282.1 L939.9 282.7 L940.2 283.3 L940.4 284.0 L940.7 284.6 L941.0 285.3 L941.3 285.9 L941.7 286.6 L942.1 287.3 L942.5 288.0 L943.0 288.6 L943.5 289.0 L944.0 289.3 L944.5 289.3 L945.0 289.1 L945.5 288.7 L945.9 288.1 L946.4 287.5 L946.9 286.9 L947.3 286.3 L947.7 285.6 L948.1 285.0 L948.4 284.4 L948.8 283.8 L949.1 283.1 L949.4 282.5 L949.7 281.8 L950.0 281.2 L950.2 280.6 L950.5 279.9 L950.7 279.3 L950.9 278.6 L951.2 278.0 L951.4 277.3 L951.6 276.7 L951.7 276.0 L951.9 275.4 L952.1 274.7 L952.3 274.0 L952.4 273.4 L952.6 272.7 L952.8 272.1 L952.9 271.4 L953.1 270.7 L953.2 270.1 L953.4 269.4 L953.5 268.7 L953.7 268.0 L953.8 267.4 L954.0 266.7 L954.1 266.0 L954.3 265.3 L954.5 264.7 L954.6 264.0 L954.8 263.3 L954.9 262.6 L955.1 261.9 L955.2 261.2 L955.4 260.6 L955.5 259.9 L955.7 259.2 L955.8 258.5 L956.0 257.8 L956.1 257.1 L956.3 256.4 L956.4 255.7 L956.6 255.0 L956.7 254.4 L956.9 253.7 L957.0 253.0 L957.2 252.3 L957.3 251.6 L957.5 250.9 L957.6 250.2 L957.8 249.5 L957.9 248.8 L958.0 248.1 L958.2 247.4 L958.3 246.7 L958.5 246.0 L958.6 245.3 L958.7 244.6 L958.9 244.0 L959.0 243.3 L959.1 242.6 L959.3 241.9 L959.4 241.2 L959.5 240.5 L959.6 239.8 L959.8 239.1 L959.9 238.4 L960.0 237.7 L960.1 237.0 L960.2 236.3 L960.4 235.6 L960.5 234.9 L960.6 234.3 L960.7 233.6 L960.8 232.9 L960.9 232.2 L961.0 231.5 L961.2 230.8 L961.3 230.1 L961.4 229.4 L961.5 228.7 L961.6 228.0 L961.7 227.3 L961.8 226.7 L961.9 226.0 L962.0 225.3 L962.1 224.6 L962.2 223.9 L962.3 223.2 L962.4 222.5 L962.5 221.8 L962.6 221.1 L962.7 220.4 L962.8 219.8 L962.9 219.1 L963.0 218.4 L963.1 217.7 L963.2 217.0 L963.3 216.3 L963.4 215.6 L963.4 214.9 L963.5 214.2 L963.6 213.5 L963.7 212.9 L963.8 212.2 L963.9 211.5 L964.0 210.8 L964.1 210.1 L964.2 209.4 L964.3 208.7 L964.4 208.0 L964.4 207.3 L964.5 206.6 L964.6 205.9 L964.7 205.3 L964.8 204.6 L964.9 203.9 L965.0 203.2 L965.1 202.5 L965.2 201.8 L965.2 201.1 L965.3 200.4 L965.4 199.7 L965.5 199.0 L965.6 198.3 L965.7 197.6 L965.8 196.9 L965.9 196.3 L966.0 195.6 L966.0 194.9 L966.1 194.2 L966.2 193.5 L966.3 192.8 L966.4 192.1 L966.5 191.4 L966.6 190.7 L966.7 190.0 L966.8 189.3 L966.9 188.6 L967.0 187.9 L967.1 187.2 L967.2 186.5 L967.3 185.8 L967.3 185.1 L967.4 184.4 L967.5 183.7 L967.6 183.0 L967.7 182.3 L967.8 181.6 L967.9 180.9 L968.0 180.2 L968.1 179.5 L968.2 178.8 L968.3 178.1 L968.4 177.4 L968.5 176.7 L968.6 176.1 L968.7 175.4 L968.8 174.7 L968.9 174.0 L969.0 173.3 L969.1 172.6 L969.2 171.9 L969.3 171.2 L969.4 170.5 L969.5 169.8 L969.6 169.1 L969.7 168.4 L969.8 167.7 L970.0 167.0 L970.1 166.3 L970.2 165.7 L970.3 165.0 L970.4 164.3 L970.5 163.6 L970.6 162.9 L970.7 162.2 L970.8 161.6 L970.9 160.9 L971.0 160.2 L971.1 159.5 L971.2 158.8 L971.3 158.2 L971.4 157.5 L971.5 156.8 L971.7 156.1 L971.8 155.4 L971.9 154.7 L972.1 154.0 L972.2 153.3 L972.4 152.6 L972.6 151.9 L972.7 151.2 L972.9 150.4 L973.2 149.7 L973.4 149.0 L973.6 148.3 L973.9 147.6 L974.1 147.0 L974.4 146.4 L974.7 145.9 L975.0 145.4 L975.4 145.2 L975.7 145.1 L976.0 145.3 L976.4 145.6 L976.7 146.0 L977.1 146.6 L977.4 147.2 L977.7 147.8 L978.0 148.5 L978.3 149.2 L978.6 149.9 L978.9 150.7 L979.1 151.4 L979.3 152.1 L979.5 152.8 L979.7 153.5 L979.9 154.2 L980.0 154.9 L980.2 155.6 L980.3 156.4 L980.5 157.1 L980.6 157.8 L980.7 158.5 L980.8 159.1 L980.9 159.8 L981.0 160.5 L981.1 161.2 L981.1 161.9 L981.2 162.6 L981.3 163.3 L981.4 164.0 L981.5 164.7 L981.6 165.4 L981.7 166.1 L981.7 166.8 L981.8 167.5 L981.9 168.2 L982.0 168.8 L982.1 169.5 L982.2 170.2 L982.3 170.9 L982.4 171.6 L982.5 172.3 L982.6 173.0 L982.7 173.7 L982.8 174.4 L982.9 175.1 L983.0 175.8 L983.1 176.4 L983.2 177.1 L983.3 177.8 L983.4 178.5 L983.5 179.2 L983.6 179.9 L983.7 180.6 L983.8 181.3 L983.9 182.0 L984.0 182.7 L984.1 183.3 L984.2 184.0 L984.3 184.7 L984.4 185.4 L984.6 186.1 L984.7 186.8 L984.8 187.5 L984.9 188.2 L985.0 188.9 L985.1 189.5 L985.2 190.2 L985.4 190.9 L985.5 191.6 L985.6 192.3 L985.7 193.0 L985.8 193.7 L985.9 194.4 L986.1 195.1 L986.2 195.7 L986.3 196.4 L986.4 197.1 L986.6 197.8 L986.7 198.5 L986.8 199.2 L986.9 199.9 L987.0 200.6 L987.2 201.2 L987.3 201.9 L987.4 202.6 L987.5 203.3 L987.7 204.0 L987.8 204.7 L987.9 205.4 L988.1 206.1 L988.2 206.7 L988.3 207.4 L988.4 208.1 L988.6 208.8 L988.7 209.5 L988.8 210.2 L989.0 210.9 L989.1 211.6 L989.2 212.2 L989.4 212.9 L989.5 213.6 L989.6 214.3 L989.7 215.0 L989.9 215.7 L990.0 216.4 L990.1 217.0 L990.3 217.7 L990.4 218.4 L990.5 219.1 L990.7 219.8 L990.8 220.5 L990.9 221.2 L991.1 221.9 L991.2 222.5 L991.3 223.2 L991.5 223.9 L991.6 224.6 L991.7 225.3 L991.9 226.0 L992.0 226.7 L992.1 227.4 L992.3 228.0 L992.4 228.7 L992.6 229.4 L992.7 230.1 L992.8 230.8 L993.0 231.5 L993.1 232.2 L993.2 232.9 L993.4 233.5 L993.5 234.2 L993.6 234.9 L993.8 235.6 L993.9 236.3 L994.0 237.0 L994.2 237.7 L994.3 238.4 L994.4 239.0 L994.6 239.7 L994.7 240.4 L994.8 241.1 L995.0 241.8 L995.1 242.5 L995.2 243.2 L995.4 243.9 L995.5 244.5 L995.6 245.2 L995.8 245.9 L995.9 246.6 L996.0 247.3 L996.2 248.0 L996.3 248.7 L996.4 249.4 L996.6 250.1 L996.7 250.7 L996.8 251.4 L996.9 252.1 L997.1 252.8 L997.2 253.5 L997.3 254.2 L997.5 254.9 L997.6 255.6 L997.7 256.3 L997.8 257.0 L998.0 257.6 L998.1 258.3 L998.2 259.0 L998.3 259.7 L998.5 260.4 L998.6 261.1 L998.7 261.8 L998.8 262.5 L999.0 263.2 L999.1 263.9 L999.2 264.5 L999.3 265.2 L999.4 265.9 L999.6 266.6 L999.7 267.3 L999.8 268.0 L999.9 268.7 L1000.0 269.4 L1000.2 270.1 L1000.3 270.8 L1000.4 271.5 L1000.5 272.2 L1000.6 272.8 L1000.7 273.5 L1000.8 274.2 L1001.0 274.9 L1001.1 275.6 L1001.2 276.3 L1001.3 277.0 L1001.4 277.7 L1001.5 278.4 L1001.6 279.1 L1001.7 279.8 L1001.8 280.5 L1001.9 281.2 L1002.0 281.9 L1002.2 282.6 L1002.3 283.2 L1002.4 283.9 L1002.5 284.6 L1002.6 285.3 L1002.7 286.0 L1002.8 286.7 L1002.9 287.4 L1003.0 288.1 L1003.1 288.8 L1003.2 289.5 L1003.3 290.2 L1003.4 290.9 L1003.5 291.6 L1003.6 292.3 L1003.7 293.0 L1003.8 293.6 L1004.0 294.3 L1004.1 295.0 L1004.2 295.7 L1004.3 296.4 L1004.4 297.1 L1004.5 297.8 L1004.7 298.5 L1004.8 299.2 L1004.9 299.8 L1005.1 300.5 L1005.2 301.2 L1005.3 301.9 L1005.5 302.6 L1005.6 303.3 L1005.8 303.9 L1005.9 304.6 L1006.1 305.3 L1006.2 306.0 L1006.4 306.7 L1006.5 307.3 L1006.7 308.0 L1006.9 308.7 L1007.0 309.4 L1007.2 310.0 L1007.4 310.7 L1007.6 311.4 L1007.8 312.0 L1008.0 312.7 L1008.2 313.4 L1008.4 314.0 L1008.6 314.7 L1008.8 315.3 L1009.0 316.0 L1009.2 316.7 L1009.5 317.3 L1009.7 318.0 L1009.9 318.6 L1010.2 319.3 L1010.4 319.9 L1010.7 320.6 L1010.9 321.2 L1011.2 321.9 L1011.5 322.5 L1011.7 323.1 L1012.0 323.8 L1012.3 324.4 L1012.6 325.0 L1012.9 325.7 L1013.2 326.3 L1013.5 326.9 L1013.8 327.6 L1014.1 328.2 L1014.5 328.8 L1014.8 329.4 L1015.1 330.0 L1015.5 330.7 L1015.8 331.3 L1016.2 331.9 L1016.5 332.5 L1016.9 333.1 L1017.3 333.7 L1017.7 334.3 L1018.1 334.8 L1018.5 335.4 L1018.9 336.0 L1019.3 336.5 L1019.8 337.1 L1020.3 337.6 L1020.8 338.1 L1021.3 338.6 L1021.8 339.0 L1022.3 339.5 L1022.9 339.9 L1023.5 340.3 L1024.1 340.7 L1024.8 341.1 L1025.4 341.4 L1026.1 341.7 L1026.7 341.9 L1027.4 342.0 L1028.1 342.0 L1028.8 342.1 L1029.4 342.1 L1030.1 342.1 L1030.7 342.3 L1031.3 342.5 L1031.8 342.9 L1032.4 343.3 L1032.9 343.8 L1033.4 344.4 L1033.9 345.0 L1034.3 345.6 L1034.8 346.1 L1035.2 346.7 L1035.6 347.2 L1036.0 347.8 L1036.4 348.3 L1036.8 348.9 L1037.1 349.4 L1037.5 350.0 L1037.8 350.5 L1038.2 351.1 L1038.5 351.7 L1038.9 352.4 L1039.2 353.0 L1039.5 353.6 L1039.8 354.3 L1040.2 354.9 L1040.5 355.6 L1040.8 356.2 L1041.2 356.9 L1041.5 357.5 L1041.9 358.1 L1042.2 358.8 L1042.6 359.4 L1043.0 360.0 L1043.4 360.6 L1043.8 361.2 L1044.2 361.8 L1044.7 362.3 L1045.1 362.8 L1045.6 363.4 L1046.1 363.9 L1046.5 364.3 L1047.0 364.8 L1047.5 365.3 L1048.1 365.8 L1048.6 366.2 L1049.1 366.7 L1049.6 367.1 L1050.2 367.5 L1050.7 368.0 L1051.2 368.4 L1051.8 368.8 L1052.3 369.3 L1052.9 369.7 L1053.4 370.2 L1053.9 370.6 L1054.5 371.0 L1055.0 371.5 L1055.5 371.9 L1056.0 372.4 L1056.5 372.9 L1057.0 373.4 L1057.5 373.9 L1058.0 374.4 L1058.4 374.9 L1058.9 375.4 L1059.3 376.0 L1059.8 376.5 L1060.2 377.1 L1060.6 377.6 L1061.1 378.2 L1061.5 378.7 L1062.0 379.3 L1062.4 379.8 L1062.9 380.4 L1063.3 380.9 L1063.8 381.4 L1064.3 381.9 L1064.8 382.3 L1065.4 382.8 L1065.9 383.2 L1066.5 383.6 L1067.0 384.1 L1067.6 384.4 L1068.2 384.8 L1068.8 385.2 L1069.4 385.6 L1070.0 385.9 L1070.6 386.3 L1071.2 386.6 L1071.9 386.9 L1072.5 387.3 L1073.1 387.6 L1073.7 388.0 L1074.3 388.3 L1074.9 388.7 L1075.5 389.0 L1076.1 389.4 L1076.7 389.7 L1077.3 390.1 L1077.9 390.5 L1078.5 390.8 L1079.0 391.2 L1079.6 391.6 L1080.2 392.0 L1080.7 392.4 L1081.3 392.8 L1081.8 393.2 L1082.4 393.6 L1082.9 394.0 L1083.5 394.4 L1084.0 394.8 L1084.6 395.2 L1085.1 395.6 L1085.7 396.0 L1086.2 396.5 L1086.7 396.9 L1087.3 397.3 L1087.8 397.7 L1088.3 398.2 L1088.9 398.6 L1089.4 399.0 L1089.9 399.5 L1090.5 399.9 L1091.0 400.4 L1091.6 400.8 L1092.1 401.2 L1092.6 401.7 L1093.2 402.1 L1093.7 402.6 L1094.3 403.0 L1094.8 403.5 L1095.4 403.9 L1095.9 404.4 L1096.5 404.8 L1097.0 405.3 L1097.6 405.7 L1098.2 406.2 L1098.7 406.6 L1099.3 407.0 L1099.9 407.5 L1100.4 407.9 L1101.0 408.4 L1101.6 408.8 L1102.1 409.2 L1102.7 409.6 L1103.3 410.1 L1103.9 410.5 L1104.5 410.9 L1105.1 411.3 L1105.6 411.7 L1106.2 412.1 L1106.8 412.5 L1107.4 412.8 L1108.0 413.2 L1108.6 413.6 L1109.2 413.9 L1109.8 414.3 L1110.5 414.6 L1111.1 415.0 L1111.7 415.3 L1112.3 415.6 L1112.9 415.9 L1113.5 416.2 L1114.2 416.5 L1114.8 416.8 L1115.4 417.0 L1116.1 417.3 L1116.7 417.6 L1117.3 417.8 L1118.0 418.0 L1118.6 418.2 L1119.3 418.4 L1119.9 418.6 L1120.6 418.8 L1121.2 418.9 L1121.9 419.1 L1122.6 419.2 L1123.2 419.4 L1123.9 419.5 L1124.6 419.6 L1125.3 419.7 L1125.9 419.8 L1126.6 419.9 L1127.3 420.0 L1128.0 420.1 L1128.7 420.2 L1129.4 420.2 L1130.1 420.3 L1130.8 420.3 L1131.5 420.4 L1132.2 420.4 L1132.9 420.5 L1133.6 420.5 L1134.4 420.6 L1135.1 420.6 L1135.8 420.6 L1136.5 420.7 L1137.3 420.7 L1138.0 420.7 L1138.8 420.8 L1139.5 420.8 L1140.2 420.8 L1141.0 420.8 L1141.6 420.9" fill="none" stroke="#12ad60" stroke-width="3.1" stroke-linejoin="round" stroke-linecap="round"/>
<path d="M691.0 432.0 L691.7 432.0 L692.4 432.0 L693.1 432.0 L693.8 432.0 L694.5 431.9 L695.2 431.9 L695.9 431.9 L696.6 431.9 L697.3 431.9 L698.0 431.9 L698.7 431.9 L699.4 431.9 L700.1 431.9 L700.8 431.9 L701.5 431.9 L702.2 431.8 L702.9 431.8 L703.6 431.8 L704.3 431.8 L705.0 431.8 L705.7 431.8 L706.4 431.8 L707.1 431.8 L707.8 431.8 L708.5 431.8 L709.2 431.7 L709.9 431.7 L710.6 431.7 L711.3 431.7 L712.0 431.7 L712.7 431.7 L713.4 431.7 L714.1 431.7 L714.8 431.7 L715.5 431.7 L716.2 431.7 L716.9 431.6 L717.6 431.6 L718.3 431.6 L719.0 431.6 L719.7 431.6 L720.4 431.6 L721.1 431.6 L721.8 431.6 L722.5 431.6 L723.2 431.6 L723.9 431.5 L724.6 431.5 L725.3 431.5 L726.0 431.5 L726.7 431.5 L727.4 431.5 L728.1 431.5 L728.8 431.5 L729.5 431.5 L730.2 431.5 L730.9 431.4 L731.6 431.4 L732.3 431.4 L733.0 431.4 L733.7 431.4 L734.4 431.4 L735.1 431.4 L735.8 431.4 L736.5 431.4 L737.2 431.3 L737.9 431.3 L738.6 431.3 L739.3 431.3 L740.0 431.3 L740.7 431.3 L741.4 431.3 L742.1 431.3 L742.8 431.2 L743.5 431.2 L744.2 431.2 L744.9 431.2 L745.6 431.2 L746.3 431.2 L747.0 431.2 L747.7 431.2 L748.4 431.1 L749.1 431.1 L749.8 431.1 L750.5 431.1 L751.2 431.1 L751.9 431.1 L752.6 431.1 L753.3 431.0 L754.0 431.0 L754.7 431.0 L755.4 431.0 L756.1 431.0 L756.8 431.0 L757.5 431.0 L758.2 430.9 L758.9 430.9 L759.6 430.9 L760.3 430.9 L761.0 430.9 L761.7 430.9 L762.4 430.9 L763.1 430.8 L763.8 430.8 L764.5 430.8 L765.2 430.8 L765.9 430.8 L766.6 430.8 L767.3 430.7 L768.0 430.7 L768.7 430.7 L769.4 430.7 L770.1 430.7 L770.8 430.7 L771.5 430.6 L772.2 430.6 L772.9 430.6 L773.6 430.6 L774.3 430.6 L775.0 430.5 L775.7 430.5 L776.4 430.5 L777.1 430.5 L777.8 430.5 L778.5 430.5 L779.2 430.4 L779.9 430.4 L780.6 430.4 L781.3 430.4 L782.0 430.4 L782.7 430.3 L783.4 430.3 L784.1 430.3 L784.8 430.3 L785.5 430.2 L786.2 430.2 L786.9 430.2 L787.6 430.2 L788.3 430.2 L789.0 430.1 L789.7 430.1 L790.4 430.1 L791.1 430.1 L791.8 430.0 L792.5 430.0 L793.2 430.0 L793.9 430.0 L794.6 430.0 L795.3 429.9 L796.0 429.9 L796.7 429.9 L797.4 429.9 L798.1 429.8 L798.8 429.8 L799.5 429.8 L800.2 429.8 L800.9 429.7 L801.6 429.7 L802.3 429.7 L803.0 429.7 L803.7 429.6 L804.4 429.6 L805.1 429.6 L805.8 429.5 L806.5 429.5 L807.2 429.5 L807.9 429.5 L808.6 429.4 L809.3 429.4 L810.0 429.4 L810.7 429.3 L811.4 429.3 L812.1 429.3 L812.8 429.3 L813.5 429.2 L814.2 429.2 L814.9 429.2 L815.6 429.1 L816.3 429.1 L817.0 429.1 L817.7 429.0 L818.4 429.0 L819.1 429.0 L819.8 428.9 L820.5 428.9 L821.2 428.9 L821.9 428.8 L822.6 428.8 L823.3 428.8 L824.0 428.7 L824.7 428.7 L825.3 428.7 L826.0 428.6 L826.7 428.6 L827.4 428.6 L828.1 428.5 L828.8 428.5 L829.5 428.5 L830.2 428.4 L830.9 428.4 L831.6 428.4 L832.3 428.3 L833.0 428.3 L833.7 428.2 L834.4 428.2 L835.1 428.2 L835.8 428.1 L836.5 428.1 L837.2 428.0 L837.9 428.0 L838.6 428.0 L839.3 427.9 L840.0 427.9 L840.7 427.8 L841.4 427.8 L842.1 427.7 L842.8 427.7 L843.5 427.7 L844.2 427.6 L844.9 427.6 L845.6 427.5 L846.3 427.5 L847.0 427.4 L847.7 427.4 L848.4 427.3 L849.1 427.3 L849.8 427.2 L850.5 427.2 L851.2 427.1 L851.9 427.1 L852.6 427.0 L853.3 427.0 L854.0 426.9 L854.7 426.8 L855.4 426.8 L856.1 426.7 L856.8 426.7 L857.5 426.6 L858.2 426.6 L858.9 426.5 L859.6 426.4 L860.3 426.4 L861.0 426.3 L861.7 426.2 L862.4 426.2 L863.1 426.1 L863.8 426.1 L864.5 426.0 L865.2 425.9 L865.9 425.8 L866.5 425.8 L867.2 425.7 L867.9 425.6 L868.6 425.6 L869.3 425.5 L870.0 425.4 L870.7 425.3 L871.4 425.3 L872.1 425.2 L872.8 425.1 L873.5 425.0 L874.2 424.9 L874.9 424.9 L875.6 424.8 L876.3 424.7 L877.0 424.6 L877.7 424.5 L878.4 424.4 L879.1 424.4 L879.8 424.3 L880.5 424.2 L881.2 424.1 L881.8 424.0 L882.5 423.9 L883.2 423.8 L883.9 423.7 L884.6 423.6 L885.3 423.5 L886.0 423.4 L886.7 423.3 L887.4 423.2 L888.1 423.1 L888.8 423.0 L889.5 422.9 L890.1 422.8 L890.8 422.7 L891.5 422.6 L892.2 422.4 L892.9 422.3 L893.6 422.2 L894.3 422.1 L895.0 422.0 L895.7 421.9 L896.3 421.7 L897.0 421.6 L897.7 421.5 L898.4 421.4 L899.1 421.2 L899.8 421.1 L900.5 421.0 L901.1 420.8 L901.8 420.7 L902.5 420.5 L903.2 420.4 L903.9 420.2 L904.6 420.0 L905.2 419.9 L905.9 419.7 L906.6 419.5 L907.3 419.3 L908.0 419.2 L908.6 419.0 L909.3 418.8 L910.0 418.6 L910.7 418.3 L911.3 418.1 L912.0 417.9 L912.7 417.7 L913.4 417.4 L914.0 417.2 L914.7 416.9 L915.4 416.7 L916.0 416.4 L916.7 416.1 L917.3 415.9 L918.0 415.6 L918.6 415.3 L919.2 415.0 L919.8 414.7 L920.5 414.3 L921.1 414.0 L921.7 413.7 L922.3 413.3 L922.9 412.9 L923.5 412.6 L924.0 412.2 L924.6 411.8 L925.1 411.4 L925.7 411.0 L926.2 410.6 L926.7 410.1 L927.3 409.7 L927.8 409.2 L928.3 408.8 L928.7 408.3 L929.2 407.8 L929.7 407.3 L930.1 406.8 L930.6 406.3 L931.0 405.8 L931.5 405.3 L931.9 404.7 L932.3 404.2 L932.7 403.6 L933.1 403.1 L933.5 402.5 L933.9 401.9 L934.2 401.3 L934.6 400.7 L935.0 400.2 L935.3 399.6 L935.7 398.9 L936.0 398.3 L936.3 397.7 L936.7 397.1 L937.0 396.5 L937.3 395.8 L937.6 395.2 L937.9 394.6 L938.2 393.9 L938.5 393.3 L938.8 392.6 L939.1 392.0 L939.4 391.3 L939.6 390.6 L939.9 390.0 L940.2 389.3 L940.4 388.6 L940.7 388.0 L941.0 387.3 L941.2 386.6 L941.5 385.9 L941.7 385.3 L941.9 384.6 L942.2 383.9 L942.4 383.2 L942.7 382.6 L942.9 381.9 L943.1 381.2 L943.3 380.5 L943.6 379.8 L943.8 379.2 L944.0 378.5 L944.2 377.8 L944.4 377.1 L944.7 376.5 L944.9 375.8 L945.1 375.1 L945.3 374.4 L945.5 373.8 L945.7 373.1 L945.9 372.4 L946.1 371.7 L946.3 371.1 L946.5 370.4 L946.7 369.7 L946.9 369.0 L947.1 368.3 L947.3 367.7 L947.5 367.0 L947.6 366.3 L947.8 365.6 L948.0 365.0 L948.2 364.3 L948.4 363.6 L948.5 362.9 L948.7 362.3 L948.9 361.6 L949.0 360.9 L949.2 360.2 L949.4 359.6 L949.6 358.9 L949.7 358.2 L949.9 357.5 L950.0 356.9 L950.2 356.2 L950.4 355.5 L950.5 354.8 L950.7 354.1 L950.8 353.5 L951.0 352.8 L951.1 352.1 L951.3 351.4 L951.4 350.8 L951.5 350.1 L951.7 349.4 L951.8 348.7 L952.0 348.0 L952.1 347.4 L952.2 346.7 L952.4 346.0 L952.5 345.3 L952.6 344.7 L952.8 344.0 L952.9 343.3 L953.0 342.6 L953.2 341.9 L953.3 341.3 L953.4 340.6 L953.5 339.9 L953.7 339.2 L953.8 338.5 L953.9 337.8 L954.0 337.2 L954.1 336.5 L954.3 335.8 L954.4 335.1 L954.5 334.4 L954.6 333.7 L954.7 333.1 L954.8 332.4 L954.9 331.7 L955.0 331.0 L955.1 330.3 L955.2 329.6 L955.4 328.9 L955.5 328.3 L955.6 327.6 L955.7 326.9 L955.8 326.2 L955.9 325.5 L956.0 324.8 L956.1 324.1 L956.2 323.4 L956.3 322.7 L956.3 322.0 L956.4 321.4 L956.5 320.7 L956.6 320.0 L956.7 319.3 L956.8 318.6 L956.9 317.9 L957.0 317.2 L957.1 316.5 L957.2 315.8 L957.3 315.1 L957.4 314.4 L957.5 313.7 L957.5 313.0 L957.6 312.3 L957.7 311.6 L957.8 310.9 L957.9 310.3 L958.0 309.6 L958.1 308.9 L958.2 308.2 L958.3 307.5 L958.3 306.8 L958.4 306.1 L958.5 305.4 L958.6 304.7 L958.7 304.0 L958.8 303.3 L958.9 302.6 L959.0 301.9 L959.1 301.2 L959.1 300.5 L959.2 299.8 L959.3 299.1 L959.4 298.4 L959.5 297.7 L959.6 297.0 L959.7 296.3 L959.8 295.6 L959.9 294.9 L960.0 294.2 L960.1 293.5 L960.2 292.8 L960.2 292.1 L960.3 291.4 L960.4 290.7 L960.5 290.0 L960.6 289.3 L960.7 288.6 L960.8 287.9 L960.9 287.2 L961.0 286.5 L961.1 285.8 L961.3 285.1 L961.4 284.4 L961.5 283.7 L961.6 283.1 L961.7 282.4 L961.8 281.7 L961.9 281.0 L962.0 280.3 L962.1 279.6 L962.2 278.9 L962.4 278.2 L962.5 277.5 L962.6 276.8 L962.7 276.1 L962.8 275.4 L963.0 274.7 L963.1 274.0 L963.2 273.3 L963.3 272.6 L963.5 271.9 L963.6 271.2 L963.7 270.5 L963.9 269.8 L964.0 269.2 L964.1 268.5 L964.3 267.8 L964.4 267.1 L964.6 266.4 L964.8 265.7 L964.9 265.0 L965.1 264.4 L965.3 263.7 L965.5 263.0 L965.7 262.4 L965.9 261.7 L966.1 261.1 L966.3 260.4 L966.6 259.8 L966.9 259.1 L967.1 258.5 L967.4 257.9 L967.7 257.3 L968.0 256.7 L968.4 256.1 L968.7 255.5 L969.1 255.0 L969.5 254.4 L969.9 253.9 L970.3 253.3 L970.8 252.8 L971.3 252.4 L971.8 251.9 L972.3 251.4 L972.8 251.0 L973.4 250.6 L974.0 250.3 L974.6 249.9 L975.3 249.6 L975.9 249.3 L976.6 249.1 L977.3 248.9 L978.0 248.6 L978.6 248.4 L979.3 248.1 L979.8 247.8 L980.4 247.5 L980.9 247.2 L981.3 246.8 L981.7 246.3 L982.1 245.8 L982.5 245.2 L982.9 244.5 L983.3 243.8 L983.8 243.0 L984.2 242.3 L984.6 241.5 L985.1 240.8 L985.5 240.2 L985.9 239.6 L986.4 239.2 L986.8 238.9 L987.3 238.8 L987.7 238.9 L988.2 239.2 L988.6 239.6 L989.0 240.1 L989.4 240.7 L989.8 241.4 L990.2 242.0 L990.5 242.6 L990.8 243.3 L991.1 243.9 L991.3 244.6 L991.6 245.2 L991.8 245.9 L992.0 246.6 L992.2 247.2 L992.3 247.9 L992.5 248.6 L992.7 249.3 L992.8 250.0 L992.9 250.7 L993.0 251.3 L993.2 252.0 L993.3 252.7 L993.4 253.4 L993.5 254.1 L993.6 254.8 L993.7 255.5 L993.8 256.2 L993.9 256.9 L994.0 257.6 L994.1 258.3 L994.2 259.0 L994.3 259.7 L994.5 260.4 L994.6 261.1 L994.7 261.7 L994.9 262.4 L995.0 263.1 L995.2 263.8 L995.3 264.5 L995.4 265.2 L995.6 265.9 L995.8 266.6 L995.9 267.2 L996.1 267.9 L996.2 268.6 L996.4 269.3 L996.6 270.0 L996.7 270.6 L996.9 271.3 L997.1 272.0 L997.3 272.7 L997.4 273.3 L997.6 274.0 L997.8 274.7 L998.0 275.4 L998.1 276.0 L998.3 276.7 L998.5 277.4 L998.7 278.0 L998.9 278.7 L999.0 279.4 L999.2 280.0 L999.4 280.7 L999.6 281.4 L999.8 282.0 L1000.0 282.7 L1000.3 283.3 L1000.5 284.0 L1000.8 284.7 L1001.1 285.3 L1001.5 286.0 L1001.8 286.6 L1002.3 287.3 L1002.7 287.9 L1003.2 288.5 L1003.7 288.9 L1004.2 289.1 L1004.8 289.1 L1005.3 288.9 L1005.8 288.6 L1006.3 288.2 L1006.8 287.7 L1007.2 287.1 L1007.6 286.5 L1008.0 285.9 L1008.3 285.3 L1008.6 284.7 L1008.9 284.0 L1009.1 283.4 L1009.4 282.7 L1009.7 282.0 L1009.9 281.4 L1010.2 280.7 L1010.4 280.1 L1010.6 279.4 L1010.9 278.7 L1011.1 278.1 L1011.3 277.4 L1011.6 276.7 L1011.8 276.1 L1012.0 275.4 L1012.2 274.7 L1012.4 274.0 L1012.6 273.4 L1012.8 272.7 L1013.0 272.0 L1013.2 271.3 L1013.4 270.7 L1013.6 270.0 L1013.7 269.3 L1013.9 268.6 L1014.1 268.0 L1014.3 267.3 L1014.4 266.6 L1014.6 265.9 L1014.8 265.2 L1014.9 264.6 L1015.1 263.9 L1015.2 263.2 L1015.4 262.5 L1015.5 261.8 L1015.7 261.1 L1015.8 260.5 L1015.9 259.8 L1016.1 259.1 L1016.2 258.4 L1016.4 257.7 L1016.5 257.0 L1016.6 256.3 L1016.7 255.6 L1016.9 255.0 L1017.0 254.3 L1017.1 253.6 L1017.2 252.9 L1017.3 252.2 L1017.5 251.5 L1017.6 250.8 L1017.7 250.1 L1017.8 249.4 L1017.9 248.8 L1018.0 248.1 L1018.1 247.4 L1018.3 246.7 L1018.4 246.0 L1018.5 245.3 L1018.6 244.6 L1018.7 243.9 L1018.8 243.2 L1018.9 242.5 L1019.0 241.8 L1019.1 241.1 L1019.2 240.5 L1019.3 239.8 L1019.4 239.1 L1019.5 238.4 L1019.6 237.7 L1019.7 237.0 L1019.8 236.3 L1019.9 235.6 L1020.0 234.9 L1020.1 234.2 L1020.3 233.5 L1020.4 232.8 L1020.5 232.2 L1020.6 231.5 L1020.7 230.8 L1020.8 230.1 L1020.9 229.4 L1021.0 228.7 L1021.1 228.0 L1021.2 227.3 L1021.3 226.6 L1021.4 225.9 L1021.5 225.2 L1021.6 224.5 L1021.7 223.9 L1021.8 223.2 L1021.9 222.5 L1022.0 221.8 L1022.1 221.1 L1022.2 220.4 L1022.3 219.7 L1022.5 219.0 L1022.6 218.3 L1022.7 217.6 L1022.8 216.9 L1022.9 216.2 L1023.0 215.6 L1023.1 214.9 L1023.2 214.2 L1023.3 213.5 L1023.4 212.8 L1023.5 212.1 L1023.6 211.4 L1023.7 210.7 L1023.8 210.0 L1023.9 209.3 L1024.0 208.6 L1024.1 207.9 L1024.2 207.2 L1024.3 206.6 L1024.4 205.9 L1024.5 205.2 L1024.6 204.5 L1024.7 203.8 L1024.8 203.1 L1024.9 202.4 L1025.0 201.7 L1025.1 201.0 L1025.2 200.3 L1025.3 199.6 L1025.5 198.9 L1025.6 198.2 L1025.7 197.6 L1025.8 196.9 L1025.9 196.2 L1026.0 195.5 L1026.1 194.8 L1026.2 194.1 L1026.3 193.4 L1026.4 192.7 L1026.5 192.0 L1026.6 191.3 L1026.7 190.6 L1026.8 189.9 L1026.9 189.2 L1027.0 188.5 L1027.1 187.8 L1027.2 187.2 L1027.3 186.5 L1027.4 185.8 L1027.5 185.1 L1027.6 184.4 L1027.7 183.7 L1027.8 183.0 L1027.8 182.3 L1027.9 181.6 L1028.0 180.9 L1028.1 180.2 L1028.2 179.5 L1028.3 178.8 L1028.4 178.1 L1028.5 177.4 L1028.6 176.7 L1028.7 176.0 L1028.8 175.3 L1028.9 174.6 L1029.0 174.0 L1029.1 173.3 L1029.2 172.6 L1029.3 171.9 L1029.4 171.2 L1029.5 170.5 L1029.6 169.8 L1029.7 169.1 L1029.8 168.4 L1029.9 167.7 L1030.0 167.0 L1030.0 166.3 L1030.1 165.6 L1030.2 164.9 L1030.4 164.2 L1030.5 163.5 L1030.6 162.9 L1030.7 162.2 L1030.8 161.5 L1030.9 160.8 L1031.0 160.1 L1031.2 159.5 L1031.3 158.8 L1031.4 158.1 L1031.6 157.5 L1031.7 156.8 L1031.8 156.1 L1032.0 155.5 L1032.2 154.8 L1032.3 154.2 L1032.5 153.5 L1032.7 152.8 L1032.9 152.1 L1033.1 151.3 L1033.3 150.6 L1033.5 149.8 L1033.7 149.0 L1033.9 148.2 L1034.1 147.4 L1034.4 146.7 L1034.7 146.1 L1034.9 145.5 L1035.2 145.1 L1035.5 145.0 L1035.8 145.1 L1036.2 145.5 L1036.5 146.0 L1036.9 146.5 L1037.3 147.0 L1037.7 147.6 L1038.0 148.2 L1038.4 148.7 L1038.7 149.3 L1039.0 150.0 L1039.2 150.6 L1039.4 151.2 L1039.6 151.9 L1039.7 152.5 L1039.8 153.2 L1040.0 153.9 L1040.1 154.6 L1040.2 155.3 L1040.4 156.0 L1040.5 156.7 L1040.6 157.4 L1040.7 158.1 L1040.9 158.8 L1041.0 159.6 L1041.1 160.3 L1041.2 161.0 L1041.3 161.7 L1041.5 162.4 L1041.6 163.1 L1041.7 163.9 L1041.8 164.6 L1041.9 165.3 L1042.0 166.0 L1042.2 166.7 L1042.3 167.4 L1042.4 168.1 L1042.5 168.8 L1042.6 169.5 L1042.7 170.2 L1042.8 170.9 L1042.9 171.5 L1043.0 172.2 L1043.1 172.9 L1043.2 173.6 L1043.4 174.3 L1043.5 175.0 L1043.6 175.7 L1043.7 176.4 L1043.8 177.1 L1043.9 177.7 L1044.0 178.4 L1044.1 179.1 L1044.2 179.8 L1044.3 180.5 L1044.4 181.2 L1044.5 181.9 L1044.6 182.5 L1044.8 183.2 L1044.9 183.9 L1045.0 184.6 L1045.1 185.3 L1045.2 186.0 L1045.3 186.7 L1045.4 187.3 L1045.5 188.0 L1045.7 188.7 L1045.8 189.4 L1045.9 190.1 L1046.0 190.8 L1046.1 191.5 L1046.2 192.1 L1046.3 192.8 L1046.5 193.5 L1046.6 194.2 L1046.7 194.9 L1046.8 195.6 L1046.9 196.3 L1047.0 197.0 L1047.2 197.7 L1047.3 198.3 L1047.4 199.0 L1047.5 199.7 L1047.6 200.4 L1047.8 201.1 L1047.9 201.8 L1048.0 202.5 L1048.1 203.2 L1048.2 203.8 L1048.4 204.5 L1048.5 205.2 L1048.6 205.9 L1048.7 206.6 L1048.8 207.3 L1049.0 208.0 L1049.1 208.7 L1049.2 209.4 L1049.3 210.0 L1049.4 210.7 L1049.6 211.4 L1049.7 212.1 L1049.8 212.8 L1049.9 213.5 L1050.0 214.2 L1050.2 214.9 L1050.3 215.6 L1050.4 216.3 L1050.5 216.9 L1050.7 217.6 L1050.8 218.3 L1050.9 219.0 L1051.0 219.7 L1051.1 220.4 L1051.3 221.1 L1051.4 221.8 L1051.5 222.5 L1051.6 223.2 L1051.8 223.8 L1051.9 224.5 L1052.0 225.2 L1052.1 225.9 L1052.2 226.6 L1052.4 227.3 L1052.5 228.0 L1052.6 228.7 L1052.7 229.4 L1052.8 230.1 L1053.0 230.8 L1053.1 231.4 L1053.2 232.1 L1053.3 232.8 L1053.5 233.5 L1053.6 234.2 L1053.7 234.9 L1053.8 235.6 L1053.9 236.3 L1054.1 237.0 L1054.2 237.7 L1054.3 238.4 L1054.4 239.0 L1054.5 239.7 L1054.6 240.4 L1054.8 241.1 L1054.9 241.8 L1055.0 242.5 L1055.1 243.2 L1055.2 243.9 L1055.3 244.6 L1055.5 245.3 L1055.6 246.0 L1055.7 246.7 L1055.8 247.3 L1055.9 248.0 L1056.0 248.7 L1056.2 249.4 L1056.3 250.1 L1056.4 250.8 L1056.5 251.5 L1056.6 252.2 L1056.7 252.9 L1056.8 253.6 L1056.9 254.3 L1057.1 254.9 L1057.2 255.6 L1057.3 256.3 L1057.4 257.0 L1057.5 257.7 L1057.6 258.4 L1057.7 259.1 L1057.8 259.8 L1058.0 260.5 L1058.1 261.2 L1058.2 261.9 L1058.3 262.5 L1058.4 263.2 L1058.5 263.9 L1058.6 264.6 L1058.7 265.3 L1058.8 266.0 L1059.0 266.7 L1059.1 267.4 L1059.2 268.1 L1059.3 268.8 L1059.4 269.5 L1059.5 270.1 L1059.6 270.8 L1059.7 271.5 L1059.9 272.2 L1060.0 272.9 L1060.1 273.6 L1060.2 274.3 L1060.3 275.0 L1060.4 275.7 L1060.5 276.4 L1060.7 277.0 L1060.8 277.7 L1060.9 278.4 L1061.0 279.1 L1061.1 279.8 L1061.3 280.5 L1061.4 281.2 L1061.5 281.9 L1061.6 282.6 L1061.7 283.2 L1061.9 283.9 L1062.0 284.6 L1062.1 285.3 L1062.2 286.0 L1062.4 286.7 L1062.5 287.4 L1062.6 288.1 L1062.7 288.7 L1062.9 289.4 L1063.0 290.1 L1063.1 290.8 L1063.3 291.5 L1063.4 292.2 L1063.5 292.9 L1063.7 293.5 L1063.8 294.2 L1063.9 294.9 L1064.1 295.6 L1064.2 296.3 L1064.4 297.0 L1064.5 297.7 L1064.6 298.3 L1064.8 299.0 L1064.9 299.7 L1065.1 300.4 L1065.2 301.1 L1065.4 301.8 L1065.5 302.5 L1065.7 303.1 L1065.8 303.8 L1066.0 304.5 L1066.1 305.2 L1066.3 305.9 L1066.5 306.6 L1066.6 307.2 L1066.8 307.9 L1066.9 308.6 L1067.1 309.3 L1067.3 310.0 L1067.5 310.6 L1067.6 311.3 L1067.8 312.0 L1068.0 312.7 L1068.2 313.3 L1068.4 314.0 L1068.6 314.7 L1068.8 315.4 L1069.0 316.0 L1069.2 316.7 L1069.4 317.4 L1069.6 318.0 L1069.8 318.7 L1070.1 319.3 L1070.3 320.0 L1070.5 320.6 L1070.8 321.3 L1071.0 321.9 L1071.3 322.6 L1071.6 323.2 L1071.8 323.8 L1072.1 324.5 L1072.4 325.1 L1072.7 325.7 L1073.0 326.4 L1073.3 327.0 L1073.7 327.6 L1074.0 328.2 L1074.3 328.8 L1074.7 329.4 L1075.0 330.0 L1075.4 330.6 L1075.8 331.2 L1076.2 331.8 L1076.6 332.4 L1077.0 333.0 L1077.4 333.5 L1077.8 334.1 L1078.3 334.7 L1078.7 335.2 L1079.2 335.8 L1079.7 336.3 L1080.2 336.9 L1080.7 337.4 L1081.2 337.9 L1081.7 338.4 L1082.2 338.9 L1082.8 339.4 L1083.3 339.9 L1083.9 340.3 L1084.5 340.7 L1085.0 341.0 L1085.6 341.3 L1086.2 341.6 L1086.8 341.9 L1087.4 342.0 L1088.0 342.2 L1088.6 342.3 L1089.2 342.3 L1089.8 342.4 L1090.4 342.5 L1091.0 342.7 L1091.6 342.9 L1092.2 343.3 L1092.7 343.7 L1093.3 344.2 L1093.8 344.7 L1094.4 345.3 L1094.9 345.8 L1095.4 346.4 L1095.9 347.0 L1096.3 347.6 L1096.8 348.1 L1097.2 348.7 L1097.7 349.3 L1098.1 349.9 L1098.5 350.5 L1098.9 351.1 L1099.3 351.7 L1099.7 352.3 L1100.1 352.9 L1100.4 353.5 L1100.8 354.1 L1101.2 354.7 L1101.6 355.3 L1101.9 355.9 L1102.3 356.5 L1102.6 357.0 L1103.0 357.6 L1103.3 358.2 L1103.7 358.8 L1104.1 359.4 L1104.4 360.0 L1104.8 360.5 L1105.2 361.1 L1105.6 361.7 L1105.9 362.2 L1106.3 362.8 L1106.7 363.3 L1107.1 363.9 L1107.6 364.4 L1108.0 364.9 L1108.4 365.4 L1108.9 365.9 L1109.3 366.5 L1109.8 366.9 L1110.3 367.4 L1110.8 367.9 L1111.3 368.4 L1111.8 368.8 L1112.4 369.3 L1112.9 369.8 L1113.4 370.2 L1114.0 370.7 L1114.5 371.1 L1115.1 371.6 L1115.6 372.0 L1116.2 372.4 L1116.8 372.9 L1117.3 373.3 L1117.9 373.8 L1118.4 374.2 L1119.0 374.7 L1119.6 375.1 L1120.1 375.6 L1120.7 376.0 L1121.2 376.5 L1121.7 377.0 L1122.2 377.4 L1122.8 377.9 L1123.3 378.4 L1123.8 378.9 L1124.2 379.4 L1124.7 379.9 L1125.2 380.5 L1125.6 381.0 L1126.0 381.5 L1126.5 382.1 L1126.9 382.6 L1127.3 383.2 L1127.8 383.7 L1128.2 384.3 L1128.6 384.8 L1129.1 385.3 L1129.6 385.8 L1130.0 386.3 L1130.6 386.7 L1131.1 387.1 L1131.6 387.5 L1132.2 387.9 L1132.8 388.3 L1133.5 388.6 L1134.2 388.9 L1134.9 389.1 L1135.5 389.4 L1136.2 389.6 L1136.9 389.9 L1137.6 390.2 L1138.3 390.4 L1138.9 390.7 L1139.6 391.1 L1140.1 391.4 L1140.7 391.8 L1141.1 392.3 L1141.2 392.3" fill="none" stroke="#d13b49" stroke-width="3.1" stroke-linejoin="round" stroke-linecap="round"/>
</g>
<text x="691.0" y="476.3" text-anchor="middle" class="tk">0</text>
<text x="766.33" y="476.3" text-anchor="middle" class="tk">1</text>
<text x="841.66" y="476.3" text-anchor="middle" class="tk">2</text>
<text x="916.99" y="476.3" text-anchor="middle" class="tk">3</text>
<text x="992.3199999999999" y="476.3" text-anchor="middle" class="tk">4</text>
<text x="1067.65" y="476.3" text-anchor="middle" class="tk">5</text>
<text x="1142.98" y="476.3" text-anchor="middle" class="tk">6</text>
<text x="654.8" y="438.5" text-anchor="end" class="tk">0</text>
<text x="654.8" y="392.07" text-anchor="end" class="tk">10</text>
<text x="654.8" y="345.64" text-anchor="end" class="tk">20</text>
<text x="654.8" y="299.21000000000004" text-anchor="end" class="tk">30</text>
<text x="654.8" y="252.78" text-anchor="end" class="tk">40</text>
<text x="654.8" y="206.35" text-anchor="end" class="tk">50</text>
<text x="654.8" y="159.92000000000002" text-anchor="end" class="tk">60</text>
<text x="654.8" y="113.49000000000001" text-anchor="end" class="tk">70</text>
<line x1="683.4" y1="103.4" x2="716.4" y2="103.4" stroke="#4469b1" stroke-width="3.1" stroke-linecap="round"/>
<text x="731.2" y="109.0" class="lg">im: avg, EXC <tspan class="eps" dx="1.5">ε</tspan></text>
<line x1="683.4" y1="130.4" x2="716.4" y2="130.4" stroke="#12ad60" stroke-width="3.1" stroke-linecap="round"/>
<text x="731.2" y="136.0" class="lg">im: avg, KS-RPA <tspan class="eps" dx="1.5">ε</tspan></text>
<line x1="683.4" y1="157.4" x2="716.4" y2="157.4" stroke="#d13b49" stroke-width="3.1" stroke-linecap="round"/>
<text x="731.2" y="163.0" class="lg">im: avg, GW-RPA <tspan class="eps" dx="1.5">ε</tspan></text>
<text x="916.6" y="500.0" text-anchor="middle" class="al">Frequency (eV)</text>
<text transform="translate(624.6,265.2) rotate(-90)" text-anchor="middle" class="al">Macroscopic DF</text>
</g>
<rect x="591.5" y="505.5" width="27" height="27" fill="#fff" stroke="#a9a9a9" stroke-width="1"/>
<use href="#i-home" x="591" y="505"/>
<rect x="621.5" y="505.5" width="27" height="27" fill="#fff" stroke="#a9a9a9" stroke-width="1"/>
<use href="#i-left" x="621" y="505"/>
<rect x="651.5" y="505.5" width="27" height="27" fill="#fff" stroke="#a9a9a9" stroke-width="1"/>
<use href="#i-right" x="651" y="505"/>
<rect x="692.5" y="505.5" width="27" height="27" fill="#fff" stroke="#a9a9a9" stroke-width="1"/>
<use href="#i-move" x="692" y="505"/>
<rect x="722.5" y="505.5" width="27" height="27" fill="#fff" stroke="#a9a9a9" stroke-width="1"/>
<use href="#i-zoom" x="722" y="505"/>
<rect x="752.5" y="505.5" width="27" height="27" fill="#fff" stroke="#a9a9a9" stroke-width="1"/>
<use href="#i-sliders" x="752" y="505"/>
<rect x="793.5" y="505.5" width="27" height="27" fill="#fff" stroke="#a9a9a9" stroke-width="1"/>
<use href="#i-save" x="793" y="505"/>
<line x1="685.5" y1="506" x2="685.5" y2="532" stroke="#9a9a9a" stroke-width="1"/>
<line x1="786.5" y1="506" x2="786.5" y2="532" stroke="#9a9a9a" stroke-width="1"/>
</svg>
</body></html>
